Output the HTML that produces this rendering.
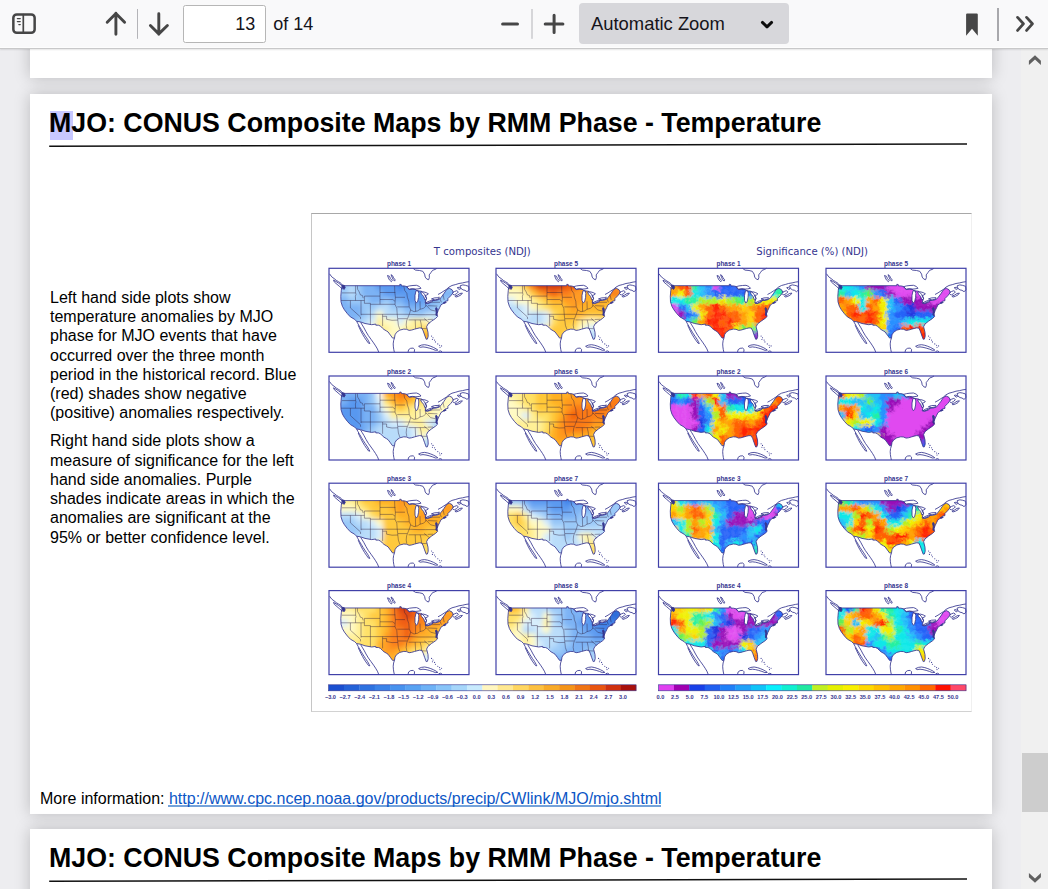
<!DOCTYPE html>
<html><head><meta charset="utf-8">
<style>
*{margin:0;padding:0;box-sizing:border-box}
html,body{width:1048px;height:889px;overflow:hidden;background:#ededf0;font-family:"Liberation Sans",Arial,sans-serif}
#tb{position:absolute;left:0;top:0;width:1048px;height:49px;background:linear-gradient(#f9f9fa 0,#f9f9fa 47px,#fdfdfd 47px,#fdfdfd 48px);border-bottom:1px solid #c8c8c9;box-shadow:0 1px 1.5px rgba(0,0,0,0.10);z-index:5}
.ab{position:absolute}
.sep{position:absolute;width:1px;background:#b4b4b8}
#pg{position:absolute;left:183px;top:5px;width:83px;height:38px;border:1px solid #b6b6b6;border-radius:2.5px;background:#fff}
#zm{position:absolute;left:579px;top:3px;width:210px;height:41px;background:#d7d7db;border-radius:4px}
.tt{position:absolute;font-family:"Liberation Sans",Arial,sans-serif;font-size:18px;line-height:18px;color:#15141a;white-space:nowrap}
.page{position:absolute;left:30px;width:962px;background:#fff;box-shadow:0 0 15px rgba(0,0,0,0.21)}
#sb{position:absolute;left:1021px;top:48px;width:27px;height:841px;background:#f0f0f0}
#thumb{position:absolute;left:1022px;top:753px;width:26px;height:59px;background:#cdcdcd}
.title{position:absolute;left:19px;font-weight:bold;font-size:26.75px;line-height:30px;color:#000;white-space:nowrap}
.hl{position:absolute;left:20px;top:16.5px;width:23px;height:29.5px;background:#c8c8ff}
.txt{position:absolute;left:20px;font-size:16px;line-height:19.27px;color:#000;white-space:nowrap}
</style></head><body>
<div id="tb">
 <div id="pg"></div>
 <div class="tt" style="left:215.3px;width:40px;text-align:right;top:15.3px">13</div>
 <div class="tt" style="left:273.3px;top:15.3px">of 14</div>
 <div id="zm"></div>
 <div class="tt" style="left:591px;top:15.4px;font-size:18.4px">Automatic Zoom</div>
 <svg class="ab" style="left:0;top:0" width="1048" height="48" viewBox="0 0 1048 48">
  <g fill="none" stroke="#464646" stroke-linecap="round" stroke-linejoin="round">
   <rect x="13.35" y="14.45" width="21.3" height="18.4" rx="3.4" stroke-width="2.5"/>
   <line x1="23.3" y1="14.5" x2="23.3" y2="33" stroke-width="1.7"/>
   <path d="M17.4 18.6H20.2M17.4 21.6H20.2M18.9 24.6H20.2" stroke-width="1.4"/>
   <path d="M115.9 34.2V13.3M107.2 22.3L115.9 13.5L124.6 22.3" stroke-width="2.9"/>
   <path d="M158.8 13.7V34.2M150.4 25.5L158.8 33.9L167.4 25.5" stroke-width="2.9"/>
   <path d="M502.6 23.9H517.5" stroke-width="3"/>
   <path d="M545.2 23.9H562.9M554.1 15.2V32.6" stroke-width="3"/>
   <path d="M762.4 22.4L767 26.9L771.6 22.4" stroke="#0c0c0d" stroke-width="2.9"/>
   <path d="M1017.6 17.4L1023.4 23.8L1017.6 30.4M1026.6 17.4L1032.4 23.8L1026.6 30.4" stroke-width="2.8"/>
  </g>
  <path d="M966.1 14.5Q966.1 13.4 967.2 13.4H976.7Q977.8 13.4 977.8 14.5V35.7L972 28.7L966.1 35.7Z" fill="#464646"/>
  <rect x="137" y="9" width="1" height="29.8" fill="#b4b4b8"/>
  <rect x="531.5" y="9" width="1" height="29.8" fill="#b4b4b8"/>
  <rect x="997" y="8" width="2" height="33" fill="#a8a8ac"/>
 </svg>
</div>

<div class="page" style="top:30px;height:48px"></div>

<div class="page" style="top:94px;height:720px">
 <div class="hl"></div>
 <div class="title" style="top:14.4px">MJO: CONUS Composite Maps by RMM Phase - Temperature</div>
 <svg class="ab" style="left:0;top:0" width="962" height="160"><line x1="19.2" y1="52.3" x2="937" y2="50" stroke="#111" stroke-width="1.5"/></svg>
 <div class="txt" style="top:193.8px">Left hand side plots show<br>temperature anomalies by MJO<br>phase for MJO events that have<br>occurred over the three month<br>period in the historical record. Blue<br>(red) shades show negative<br>(positive) anomalies respectively.</div>
 <div class="txt" style="top:337.3px">Right hand side plots show a<br>measure of significance for the left<br>hand side anomalies. Purple<br>shades indicate areas in which the<br>anomalies are significant at the<br>95% or better confidence level.</div>
 <!--FIG--><div id="fig" class="ab" style="left:281px;top:119px;width:661px;height:499px;border:1px solid #c6c6c6;border-top-color:#a8a8a8;border-bottom-color:#d2d2d2;border-right-color:#f0f0f0;background:#fff"></div>
<svg class="ab" style="left:281px;top:119px" width="661" height="499" viewBox="311 213 661 499">
<defs>
<filter id="bl" x="-10%" y="-10%" width="120%" height="120%"><feGaussianBlur stdDeviation="2.4"/></filter>
<filter id="bs" x="-10%" y="-10%" width="120%" height="120%"><feGaussianBlur stdDeviation="1.8" result="b"/><feTurbulence type="fractalNoise" baseFrequency="0.28" numOctaves="2" seed="3" result="n"/><feDisplacementMap in="b" in2="n" scale="8" xChannelSelector="R" yChannelSelector="G"/></filter>
<clipPath id="us"><path d="M13.4 17.4 L70.8 17.4 L70.8 16.0 L72.2 16.2 L72.5 17.6 L74.8 17.6 L77.5 18.2 L78.8 20.0 L80.1 21.2 L83.5 20.8 L86.8 21.2 L88.2 22.6 L91.5 22.8 L93.0 23.2 L95.5 26.0 L97.5 30.0 L96.2 34.5 L99.0 34.8 L102.5 33.0 L104.0 32.2 L106.5 32.2 L110.0 31.2 L112.0 29.4 L113.2 27.6 L114.8 25.5 L117.5 21.4 L120.3 20.0 L123.0 21.4 L124.4 24.1 L121.7 27.5 L118.9 30.3 L118.9 32.4 L116.2 33.0 L115.5 34.4 L112.0 36.5 L110.7 39.2 L109.3 42.0 L107.9 45.4 L108.6 48.2 L106.5 50.2 L102.4 53.0 L99.0 55.7 L97.6 58.5 L99.0 64.0 L99.2 68.0 L98.4 70.8 L97.2 71.0 L95.6 66.7 L94.2 62.6 L92.8 59.8 L90.5 59.6 L88.0 60.2 L85.5 60.9 L82.4 61.8 L80.1 62.1 L77.5 61.0 L74.8 60.8 L70.8 61.8 L67.6 64.0 L66.0 66.5 L65.5 69.6 L63.6 69.8 L61.4 66.8 L59.0 63.6 L57.4 62.6 L55.0 61.2 L53.4 59.8 L51.5 57.8 L49.4 56.9 L46.8 56.9 L46.8 55.8 L42.7 56.4 L36.0 55.2 L31.4 53.6 L27.6 53.0 L25.6 51.0 L21.4 48.6 L18.4 45.4 L15.4 41.5 L13.4 38.0 L12.0 33.5 L11.8 28.0 L12.3 22.0 L12.7 19.0Z"/></clipPath>
<g id="geo" fill="none" stroke="#35358f" stroke-width="0.85" stroke-linejoin="round"><path d="M0.5 5.5 L2.8 8.6 L5.0 10.2 L7.5 12.2 L9.5 13.4 L12.0 15.0 L13.4 17.4"/><path d="M4.5 11.8 L7.0 13.2 L9.8 15.0 L12.4 17.0 L14.4 19.6 L13.2 20.6 L10.8 18.4 L8.0 16.0 L5.4 13.8 L4.5 11.8"/><path d="M58.5 7.2 L60.5 8.0 L61.5 10.4 L63.2 12.2 L62.4 13.4 L60.4 11.6 L59.4 9.6 L58.5 7.2"/><path d="M62.0 6.4 L63.6 7.4 L64.6 9.6 L66.2 11.6 L65.6 12.8 L64.0 11.0 L63.0 8.8 L62.0 6.4"/><path d="M84.0 0.0 L86.5 1.8 L90.5 2.2 L93.8 3.0 L95.6 5.8 L96.2 8.8 L97.8 10.8 L99.6 11.4 L100.4 9.2 L100.2 6.6 L102.0 4.2 L103.6 2.0 L106.0 1.2 L108.0 0.0"/><path d="M77.6 18.4 L80.5 17.6 L84.0 17.2 L87.5 17.0 L90.4 18.2 L92.0 20.0 L89.0 20.6 L86.6 20.8 L83.4 20.4 L80.2 20.9 L77.6 18.4Z" fill="#fff"/><path d="M87.0 22.4 L89.2 22.4 L89.8 25.0 L89.6 29.0 L88.6 33.6 L87.2 34.6 L86.0 32.0 L86.0 27.0 L87.0 22.4Z" fill="#fff"/><path d="M91.6 23.9 L94.4 23.5 L97.2 24.3 L99.4 25.5 L98.0 26.7 L96.4 27.1 L97.6 30.4 L96.0 31.8 L94.6 28.2 L92.6 25.9 L91.6 23.9Z" fill="#fff"/><path d="M96.6 34.9 L99.0 33.3 L102.4 32.1 L104.6 31.8 L102.2 34.1 L98.4 35.3 L96.6 34.9Z" fill="#fff"/><path d="M102.5 30.6 L105.5 29.6 L110.0 29.4 L109.6 30.8 L106.0 31.6 L102.5 30.6Z" fill="#fff"/><path d="M109.0 26.2 L112.0 24.6 L115.0 22.6 L117.5 21.0 L120.0 18.8 L123.0 17.2 L126.8 16.2 L130.0 15.2 L133.6 14.6 L137.0 13.8 L140.0 13.4"/><path d="M123.4 24.2 L125.6 23.2 L127.8 22.4 L129.4 23.6 L127.6 25.4 L125.4 26.6 L123.8 26.0"/><path d="M126.0 27.8 L128.6 26.8 L131.0 25.2 L133.4 24.8 L132.0 26.6 L129.4 28.0 L126.8 28.8 L126.0 27.8"/><path d="M131.0 17.6 L133.8 16.6 L136.4 17.0 L139.6 18.0 L140.0 21.6 L138.0 23.4 L136.0 22.0 L134.0 21.6 L132.0 20.2 L131.0 17.6"/><path d="M128.2 19.4 L130.0 19.0 L131.6 20.4 L130.2 21.2 L128.2 19.4"/><path d="M27.6 53.0 L29.0 55.6 L30.6 58.4 L32.4 61.4 L34.2 64.4 L36.4 67.8 L38.6 71.0 L40.0 73.6 L40.8 75.2 L39.6 75.0 L37.8 72.6 L35.6 69.4 L33.6 66.0 L31.8 62.6 L30.4 59.6 L29.2 57.0"/><path d="M31.6 54.0 L33.2 56.6 L35.0 59.6 L37.0 63.4 L39.4 67.4 L42.0 71.0 L44.6 74.6 L46.6 77.6 L48.4 80.6 L49.8 84.0"/><path d="M65.5 69.6 L64.6 72.4 L64.2 75.6 L64.4 78.6 L64.8 81.4 L65.4 84.0"/><path d="M79.0 84.0 L79.6 81.4 L81.6 80.0 L84.2 79.8 L85.6 81.2 L85.2 84.0"/><path d="M89.6 78.0 L92.4 76.8 L95.6 76.4 L98.8 77.0 L101.8 78.0 L104.6 79.2 L107.2 80.6 L108.8 81.8 L106.4 82.0 L103.4 80.8 L100.2 79.8 L97.0 79.0 L94.0 78.6 L91.2 79.0 L89.6 78.0"/><path d="M109.6 83.2 L111.4 82.6 L113.0 83.4"/><path d="M13.0 16.6 L15.4 17.2 L16.2 19.4 L15.0 21.2 L13.8 19.8Z" fill="#35358f"/><path d="M107.0 39.2 L108.2 40.2 L108.3 43.8 L107.6 47.6 L106.9 46.8 L107.2 43.0 L106.5 40.4Z" fill="#35358f"/><path d="M114.2 34.6 L116.6 33.6 L117.2 34.2 L115.0 35.2Z" fill="#35358f"/><path d="M13.4 17.4 L70.8 17.4 L70.8 16.0 L72.2 16.2 L72.5 17.6 L74.8 17.6 L77.5 18.2 L78.8 20.0 L80.1 21.2 L83.5 20.8 L86.8 21.2 L88.2 22.6 L91.5 22.8 L93.0 23.2 L95.5 26.0 L97.5 30.0 L96.2 34.5 L99.0 34.8 L102.5 33.0 L104.0 32.2 L106.5 32.2 L110.0 31.2 L112.0 29.4 L113.2 27.6 L114.8 25.5 L117.5 21.4 L120.3 20.0 L123.0 21.4 L124.4 24.1 L121.7 27.5 L118.9 30.3 L118.9 32.4 L116.2 33.0 L115.5 34.4 L112.0 36.5 L110.7 39.2 L109.3 42.0 L107.9 45.4 L108.6 48.2 L106.5 50.2 L102.4 53.0 L99.0 55.7 L97.6 58.5 L99.0 64.0 L99.2 68.0 L98.4 70.8 L97.2 71.0 L95.6 66.7 L94.2 62.6 L92.8 59.8 L90.5 59.6 L88.0 60.2 L85.5 60.9 L82.4 61.8 L80.1 62.1 L77.5 61.0 L74.8 60.8 L70.8 61.8 L67.6 64.0 L66.0 66.5 L65.5 69.6 L63.6 69.8 L61.4 66.8 L59.0 63.6 L57.4 62.6 L55.0 61.2 L53.4 59.8 L51.5 57.8 L49.4 56.9 L46.8 56.9 L46.8 55.8 L42.7 56.4 L36.0 55.2 L31.4 53.6 L27.6 53.0 L25.6 51.0 L21.4 48.6 L18.4 45.4 L15.4 41.5 L13.4 38.0 L12.0 33.5 L11.8 28.0 L12.3 22.0 L12.7 19.0Z"/></g>
<g id="st" fill="none" stroke="#2a1a3a" stroke-opacity="0.7" stroke-width="0.6"><path d="M26.6 17.4 L26.6 24.5"/><path d="M13.0 24.6 L26.6 24.6"/><path d="M28.4 17.4 L28.6 21.0 L30.2 23.6 L31.4 26.6 L33.4 27.2 L34.2 29.8"/><path d="M26.6 24.5 L27.0 26.0 L26.4 28.0 L26.6 32.2"/><path d="M12.0 32.2 L35.4 32.2"/><path d="M21.4 32.2 L21.4 39.6 L31.4 48.6 L31.6 50.8"/><path d="M32.0 32.2 L32.0 47.0"/><path d="M35.4 27.8 L35.4 35.0 L41.4 35.0 L41.4 46.0"/><path d="M35.4 27.8 L51.0 27.8"/><path d="M51.0 17.4 L51.0 36.0"/><path d="M41.4 36.0 L66.0 36.0"/><path d="M51.0 24.2 L66.4 24.2"/><path d="M51.0 31.2 L63.8 31.2 L66.0 33.0"/><path d="M65.6 17.4 L65.8 24.0 L66.4 29.0 L66.0 36.0 L67.8 40.0 L68.2 45.6"/><path d="M32.0 46.0 L69.0 46.0"/><path d="M41.4 46.0 L41.4 56.4"/><path d="M53.6 46.0 L53.6 57.8"/><path d="M53.6 48.0 L57.6 48.0 L57.6 51.0 L63.0 52.0 L68.8 51.8"/><path d="M68.2 45.6 L68.8 51.8 L69.4 57.0 L70.8 61.0"/><path d="M66.4 29.0 L76.0 29.0"/><path d="M68.2 38.6 L80.0 38.6"/><path d="M74.8 17.6 L75.6 22.0 L77.8 25.0 L78.4 29.0 L79.8 33.0 L80.2 38.0 L81.6 41.6 L80.6 45.0 L79.2 48.6 L77.6 52.6 L77.2 56.8 L77.8 60.4"/><path d="M69.0 50.4 L78.0 50.4"/><path d="M69.0 46.0 L79.8 46.0 L89.0 46.4 L96.6 46.4 L107.0 46.4"/><path d="M79.6 51.6 L97.6 51.6"/><path d="M86.2 51.6 L86.6 60.6"/><path d="M91.2 51.6 L92.2 56.0 L92.6 60.2"/><path d="M92.6 60.2 L97.8 60.4"/><path d="M95.2 50.2 L98.6 53.0 L101.0 55.0"/><path d="M98.6 51.2 L104.0 51.0"/><path d="M86.4 34.0 L86.6 43.2"/><path d="M91.0 33.0 L91.2 41.0"/><path d="M81.6 41.6 L85.0 43.4 L88.6 42.6 L91.0 41.0 L94.6 40.0 L97.4 37.2"/><path d="M96.2 31.6 L96.8 38.0"/><path d="M96.8 34.0 L111.0 34.0"/><path d="M97.4 37.2 L101.6 41.6 L107.4 43.0"/><path d="M99.0 37.4 L108.4 37.8"/><path d="M110.0 28.2 L112.4 34.0"/><path d="M114.0 26.4 L115.2 31.6"/></g>
</defs>
<text x="482.3" y="255.2" text-anchor="middle" font-family="DejaVu Sans, Liberation Sans, sans-serif" font-size="11" fill="#35358f" textLength="97" lengthAdjust="spacingAndGlyphs">T composites (NDJ)</text>
<text x="812.1" y="255.2" text-anchor="middle" font-family="DejaVu Sans, Liberation Sans, sans-serif" font-size="11" fill="#35358f" textLength="111.5" lengthAdjust="spacingAndGlyphs">Significance (%) (NDJ)</text>
<text x="399.0" y="265.9" text-anchor="middle" font-family="Liberation Sans, sans-serif" font-weight="bold" font-size="7.2" fill="#35358f" textLength="24" lengthAdjust="spacingAndGlyphs">phase 1</text>
<g transform="translate(329.0 268.3)">
<g clip-path="url(#us)"><g filter="url(#bl)"><rect x="9" y="12" width="10" height="10" fill="#98c8f8"/><rect x="19" y="12" width="7" height="10" fill="#b8dcfa"/><rect x="26" y="12" width="7" height="10" fill="#98c8f8"/><rect x="33" y="12" width="7" height="10" fill="#78b0f4"/><rect x="40" y="12" width="7" height="10" fill="#78b0f4"/><rect x="47" y="12" width="7" height="10" fill="#5898f0"/><rect x="54" y="12" width="7" height="10" fill="#5898f0"/><rect x="61" y="12" width="7" height="10" fill="#5898f0"/><rect x="68" y="12" width="7" height="10" fill="#3c80e8"/><rect x="75" y="12" width="7" height="10" fill="#5898f0"/><rect x="82" y="12" width="7" height="10" fill="#5898f0"/><rect x="89" y="12" width="7" height="10" fill="#78b0f4"/><rect x="96" y="12" width="7" height="10" fill="#78b0f4"/><rect x="103" y="12" width="7" height="10" fill="#98c8f8"/><rect x="110" y="12" width="7" height="10" fill="#98c8f8"/><rect x="117" y="12" width="10" height="10" fill="#98c8f8"/><rect x="9" y="22" width="10" height="7" fill="#98c8f8"/><rect x="19" y="22" width="7" height="7" fill="#b8dcfa"/><rect x="26" y="22" width="7" height="7" fill="#98c8f8"/><rect x="33" y="22" width="7" height="7" fill="#78b0f4"/><rect x="40" y="22" width="7" height="7" fill="#78b0f4"/><rect x="47" y="22" width="7" height="7" fill="#78b0f4"/><rect x="54" y="22" width="7" height="7" fill="#5898f0"/><rect x="61" y="22" width="7" height="7" fill="#5898f0"/><rect x="68" y="22" width="7" height="7" fill="#5898f0"/><rect x="75" y="22" width="7" height="7" fill="#5898f0"/><rect x="82" y="22" width="7" height="7" fill="#5898f0"/><rect x="89" y="22" width="7" height="7" fill="#5898f0"/><rect x="96" y="22" width="7" height="7" fill="#78b0f4"/><rect x="103" y="22" width="7" height="7" fill="#78b0f4"/><rect x="110" y="22" width="7" height="7" fill="#78b0f4"/><rect x="117" y="22" width="10" height="7" fill="#78b0f4"/><rect x="9" y="29" width="10" height="7" fill="#78b0f4"/><rect x="19" y="29" width="7" height="7" fill="#98c8f8"/><rect x="26" y="29" width="7" height="7" fill="#98c8f8"/><rect x="33" y="29" width="7" height="7" fill="#98c8f8"/><rect x="40" y="29" width="7" height="7" fill="#78b0f4"/><rect x="47" y="29" width="7" height="7" fill="#78b0f4"/><rect x="54" y="29" width="7" height="7" fill="#98c8f8"/><rect x="61" y="29" width="7" height="7" fill="#78b0f4"/><rect x="68" y="29" width="7" height="7" fill="#78b0f4"/><rect x="75" y="29" width="7" height="7" fill="#5898f0"/><rect x="82" y="29" width="7" height="7" fill="#5898f0"/><rect x="89" y="29" width="7" height="7" fill="#5898f0"/><rect x="96" y="29" width="7" height="7" fill="#78b0f4"/><rect x="103" y="29" width="7" height="7" fill="#78b0f4"/><rect x="110" y="29" width="7" height="7" fill="#98c8f8"/><rect x="117" y="29" width="10" height="7" fill="#98c8f8"/><rect x="9" y="36" width="10" height="7" fill="#78b0f4"/><rect x="19" y="36" width="7" height="7" fill="#78b0f4"/><rect x="26" y="36" width="7" height="7" fill="#78b0f4"/><rect x="33" y="36" width="7" height="7" fill="#98c8f8"/><rect x="40" y="36" width="7" height="7" fill="#98c8f8"/><rect x="47" y="36" width="7" height="7" fill="#b8dcfa"/><rect x="54" y="36" width="7" height="7" fill="#b8dcfa"/><rect x="61" y="36" width="7" height="7" fill="#98c8f8"/><rect x="68" y="36" width="7" height="7" fill="#98c8f8"/><rect x="75" y="36" width="7" height="7" fill="#78b0f4"/><rect x="82" y="36" width="7" height="7" fill="#78b0f4"/><rect x="89" y="36" width="7" height="7" fill="#78b0f4"/><rect x="96" y="36" width="7" height="7" fill="#78b0f4"/><rect x="103" y="36" width="7" height="7" fill="#98c8f8"/><rect x="110" y="36" width="7" height="7" fill="#98c8f8"/><rect x="117" y="36" width="10" height="7" fill="#98c8f8"/><rect x="9" y="43" width="10" height="7" fill="#78b0f4"/><rect x="19" y="43" width="7" height="7" fill="#78b0f4"/><rect x="26" y="43" width="7" height="7" fill="#78b0f4"/><rect x="33" y="43" width="7" height="7" fill="#98c8f8"/><rect x="40" y="43" width="7" height="7" fill="#b8dcfa"/><rect x="47" y="43" width="7" height="7" fill="#fffac4"/><rect x="54" y="43" width="7" height="7" fill="#b8dcfa"/><rect x="61" y="43" width="7" height="7" fill="#b8dcfa"/><rect x="68" y="43" width="7" height="7" fill="#b8dcfa"/><rect x="75" y="43" width="7" height="7" fill="#98c8f8"/><rect x="82" y="43" width="7" height="7" fill="#98c8f8"/><rect x="89" y="43" width="7" height="7" fill="#98c8f8"/><rect x="96" y="43" width="7" height="7" fill="#b8dcfa"/><rect x="103" y="43" width="7" height="7" fill="#b8dcfa"/><rect x="110" y="43" width="7" height="7" fill="#b8dcfa"/><rect x="117" y="43" width="10" height="7" fill="#b8dcfa"/><rect x="9" y="50" width="10" height="7" fill="#78b0f4"/><rect x="19" y="50" width="7" height="7" fill="#78b0f4"/><rect x="26" y="50" width="7" height="7" fill="#98c8f8"/><rect x="33" y="50" width="7" height="7" fill="#b8dcfa"/><rect x="40" y="50" width="7" height="7" fill="#d8eefc"/><rect x="47" y="50" width="7" height="7" fill="#fff096"/><rect x="54" y="50" width="7" height="7" fill="#fffac4"/><rect x="61" y="50" width="7" height="7" fill="#fffac4"/><rect x="68" y="50" width="7" height="7" fill="#d8eefc"/><rect x="75" y="50" width="7" height="7" fill="#fffac4"/><rect x="82" y="50" width="7" height="7" fill="#fff096"/><rect x="89" y="50" width="7" height="7" fill="#fff096"/><rect x="96" y="50" width="7" height="7" fill="#fffac4"/><rect x="103" y="50" width="7" height="7" fill="#d8eefc"/><rect x="110" y="50" width="7" height="7" fill="#d8eefc"/><rect x="117" y="50" width="10" height="7" fill="#d8eefc"/><rect x="9" y="57" width="10" height="7" fill="#98c8f8"/><rect x="19" y="57" width="7" height="7" fill="#98c8f8"/><rect x="26" y="57" width="7" height="7" fill="#b8dcfa"/><rect x="33" y="57" width="7" height="7" fill="#d8eefc"/><rect x="40" y="57" width="7" height="7" fill="#fffac4"/><rect x="47" y="57" width="7" height="7" fill="#fff096"/><rect x="54" y="57" width="7" height="7" fill="#fff096"/><rect x="61" y="57" width="7" height="7" fill="#fffac4"/><rect x="68" y="57" width="7" height="7" fill="#fffac4"/><rect x="75" y="57" width="7" height="7" fill="#fff096"/><rect x="82" y="57" width="7" height="7" fill="#fff096"/><rect x="89" y="57" width="7" height="7" fill="#ffe064"/><rect x="96" y="57" width="7" height="7" fill="#ffc838"/><rect x="103" y="57" width="7" height="7" fill="#fffac4"/><rect x="110" y="57" width="7" height="7" fill="#fffac4"/><rect x="117" y="57" width="10" height="7" fill="#fffac4"/><rect x="9" y="64" width="10" height="10" fill="#d8eefc"/><rect x="19" y="64" width="7" height="10" fill="#d8eefc"/><rect x="26" y="64" width="7" height="10" fill="#d8eefc"/><rect x="33" y="64" width="7" height="10" fill="#fffac4"/><rect x="40" y="64" width="7" height="10" fill="#fff096"/><rect x="47" y="64" width="7" height="10" fill="#fff096"/><rect x="54" y="64" width="7" height="10" fill="#fffac4"/><rect x="61" y="64" width="7" height="10" fill="#fffac4"/><rect x="68" y="64" width="7" height="10" fill="#fff096"/><rect x="75" y="64" width="7" height="10" fill="#ffe064"/><rect x="82" y="64" width="7" height="10" fill="#ffc838"/><rect x="89" y="64" width="7" height="10" fill="#ffb024"/><rect x="96" y="64" width="7" height="10" fill="#ffb024"/><rect x="103" y="64" width="7" height="10" fill="#fffac4"/><rect x="110" y="64" width="7" height="10" fill="#fffac4"/><rect x="117" y="64" width="10" height="10" fill="#fffac4"/></g></g>
<use href="#st"/>
<use href="#geo"/>
<circle cx="102.6" cy="67.8" r="0.55" fill="#35358f"/>
<circle cx="104.0" cy="69.4" r="0.55" fill="#35358f"/>
<circle cx="103.4" cy="71.2" r="0.55" fill="#35358f"/>
<circle cx="105.6" cy="71.8" r="0.55" fill="#35358f"/>
<circle cx="106.4" cy="73.6" r="0.55" fill="#35358f"/>
<circle cx="108.8" cy="75.6" r="0.55" fill="#35358f"/>
<circle cx="110.6" cy="77.0" r="0.55" fill="#35358f"/>
<circle cx="112.6" cy="77.6" r="0.55" fill="#35358f"/>
<circle cx="111.0" cy="79.0" r="0.55" fill="#35358f"/>
<rect x="0" y="0" width="140" height="84" fill="none" stroke="#4040a8" stroke-width="1.2"/>
</g>
<text x="399.0" y="373.6" text-anchor="middle" font-family="Liberation Sans, sans-serif" font-weight="bold" font-size="7.2" fill="#35358f" textLength="24" lengthAdjust="spacingAndGlyphs">phase 2</text>
<g transform="translate(329.0 376.0)">
<g clip-path="url(#us)"><g filter="url(#bl)"><rect x="9" y="12" width="10" height="10" fill="#78b0f4"/><rect x="19" y="12" width="7" height="10" fill="#78b0f4"/><rect x="26" y="12" width="7" height="10" fill="#78b0f4"/><rect x="33" y="12" width="7" height="10" fill="#78b0f4"/><rect x="40" y="12" width="7" height="10" fill="#98c8f8"/><rect x="47" y="12" width="7" height="10" fill="#fafaf0"/><rect x="54" y="12" width="7" height="10" fill="#ffb024"/><rect x="61" y="12" width="7" height="10" fill="#ff981a"/><rect x="68" y="12" width="7" height="10" fill="#fa7a12"/><rect x="75" y="12" width="7" height="10" fill="#fa7a12"/><rect x="82" y="12" width="7" height="10" fill="#ffb024"/><rect x="89" y="12" width="7" height="10" fill="#ffc838"/><rect x="96" y="12" width="7" height="10" fill="#fff096"/><rect x="103" y="12" width="7" height="10" fill="#fffac4"/><rect x="110" y="12" width="7" height="10" fill="#fffac4"/><rect x="117" y="12" width="10" height="10" fill="#fffac4"/><rect x="9" y="22" width="10" height="7" fill="#78b0f4"/><rect x="19" y="22" width="7" height="7" fill="#5898f0"/><rect x="26" y="22" width="7" height="7" fill="#5898f0"/><rect x="33" y="22" width="7" height="7" fill="#78b0f4"/><rect x="40" y="22" width="7" height="7" fill="#98c8f8"/><rect x="47" y="22" width="7" height="7" fill="#d8eefc"/><rect x="54" y="22" width="7" height="7" fill="#ffe064"/><rect x="61" y="22" width="7" height="7" fill="#ffb024"/><rect x="68" y="22" width="7" height="7" fill="#ff981a"/><rect x="75" y="22" width="7" height="7" fill="#ffb024"/><rect x="82" y="22" width="7" height="7" fill="#ffc838"/><rect x="89" y="22" width="7" height="7" fill="#ffe064"/><rect x="96" y="22" width="7" height="7" fill="#fff096"/><rect x="103" y="22" width="7" height="7" fill="#fffac4"/><rect x="110" y="22" width="7" height="7" fill="#fffac4"/><rect x="117" y="22" width="10" height="7" fill="#fffac4"/><rect x="9" y="29" width="10" height="7" fill="#5898f0"/><rect x="19" y="29" width="7" height="7" fill="#5898f0"/><rect x="26" y="29" width="7" height="7" fill="#5898f0"/><rect x="33" y="29" width="7" height="7" fill="#78b0f4"/><rect x="40" y="29" width="7" height="7" fill="#78b0f4"/><rect x="47" y="29" width="7" height="7" fill="#b8dcfa"/><rect x="54" y="29" width="7" height="7" fill="#fffac4"/><rect x="61" y="29" width="7" height="7" fill="#ffe064"/><rect x="68" y="29" width="7" height="7" fill="#ffc838"/><rect x="75" y="29" width="7" height="7" fill="#ffe064"/><rect x="82" y="29" width="7" height="7" fill="#fff096"/><rect x="89" y="29" width="7" height="7" fill="#fff096"/><rect x="96" y="29" width="7" height="7" fill="#fff096"/><rect x="103" y="29" width="7" height="7" fill="#fffac4"/><rect x="110" y="29" width="7" height="7" fill="#fffac4"/><rect x="117" y="29" width="10" height="7" fill="#fffac4"/><rect x="9" y="36" width="10" height="7" fill="#5898f0"/><rect x="19" y="36" width="7" height="7" fill="#5898f0"/><rect x="26" y="36" width="7" height="7" fill="#5898f0"/><rect x="33" y="36" width="7" height="7" fill="#78b0f4"/><rect x="40" y="36" width="7" height="7" fill="#78b0f4"/><rect x="47" y="36" width="7" height="7" fill="#98c8f8"/><rect x="54" y="36" width="7" height="7" fill="#d8eefc"/><rect x="61" y="36" width="7" height="7" fill="#fff096"/><rect x="68" y="36" width="7" height="7" fill="#fff096"/><rect x="75" y="36" width="7" height="7" fill="#fff096"/><rect x="82" y="36" width="7" height="7" fill="#fff096"/><rect x="89" y="36" width="7" height="7" fill="#fffac4"/><rect x="96" y="36" width="7" height="7" fill="#fff096"/><rect x="103" y="36" width="7" height="7" fill="#fffac4"/><rect x="110" y="36" width="7" height="7" fill="#fffac4"/><rect x="117" y="36" width="10" height="7" fill="#fffac4"/><rect x="9" y="43" width="10" height="7" fill="#5898f0"/><rect x="19" y="43" width="7" height="7" fill="#5898f0"/><rect x="26" y="43" width="7" height="7" fill="#5898f0"/><rect x="33" y="43" width="7" height="7" fill="#78b0f4"/><rect x="40" y="43" width="7" height="7" fill="#78b0f4"/><rect x="47" y="43" width="7" height="7" fill="#98c8f8"/><rect x="54" y="43" width="7" height="7" fill="#b8dcfa"/><rect x="61" y="43" width="7" height="7" fill="#d8eefc"/><rect x="68" y="43" width="7" height="7" fill="#d8eefc"/><rect x="75" y="43" width="7" height="7" fill="#fffac4"/><rect x="82" y="43" width="7" height="7" fill="#fff096"/><rect x="89" y="43" width="7" height="7" fill="#fff096"/><rect x="96" y="43" width="7" height="7" fill="#d8eefc"/><rect x="103" y="43" width="7" height="7" fill="#b8dcfa"/><rect x="110" y="43" width="7" height="7" fill="#b8dcfa"/><rect x="117" y="43" width="10" height="7" fill="#b8dcfa"/><rect x="9" y="50" width="10" height="7" fill="#78b0f4"/><rect x="19" y="50" width="7" height="7" fill="#5898f0"/><rect x="26" y="50" width="7" height="7" fill="#5898f0"/><rect x="33" y="50" width="7" height="7" fill="#78b0f4"/><rect x="40" y="50" width="7" height="7" fill="#98c8f8"/><rect x="47" y="50" width="7" height="7" fill="#b8dcfa"/><rect x="54" y="50" width="7" height="7" fill="#b8dcfa"/><rect x="61" y="50" width="7" height="7" fill="#b8dcfa"/><rect x="68" y="50" width="7" height="7" fill="#b8dcfa"/><rect x="75" y="50" width="7" height="7" fill="#b8dcfa"/><rect x="82" y="50" width="7" height="7" fill="#d8eefc"/><rect x="89" y="50" width="7" height="7" fill="#fff096"/><rect x="96" y="50" width="7" height="7" fill="#fff096"/><rect x="103" y="50" width="7" height="7" fill="#b8dcfa"/><rect x="110" y="50" width="7" height="7" fill="#b8dcfa"/><rect x="117" y="50" width="10" height="7" fill="#b8dcfa"/><rect x="9" y="57" width="10" height="7" fill="#78b0f4"/><rect x="19" y="57" width="7" height="7" fill="#78b0f4"/><rect x="26" y="57" width="7" height="7" fill="#98c8f8"/><rect x="33" y="57" width="7" height="7" fill="#b8dcfa"/><rect x="40" y="57" width="7" height="7" fill="#b8dcfa"/><rect x="47" y="57" width="7" height="7" fill="#b8dcfa"/><rect x="54" y="57" width="7" height="7" fill="#b8dcfa"/><rect x="61" y="57" width="7" height="7" fill="#b8dcfa"/><rect x="68" y="57" width="7" height="7" fill="#b8dcfa"/><rect x="75" y="57" width="7" height="7" fill="#b8dcfa"/><rect x="82" y="57" width="7" height="7" fill="#d8eefc"/><rect x="89" y="57" width="7" height="7" fill="#fffac4"/><rect x="96" y="57" width="7" height="7" fill="#d8eefc"/><rect x="103" y="57" width="7" height="7" fill="#b8dcfa"/><rect x="110" y="57" width="7" height="7" fill="#b8dcfa"/><rect x="117" y="57" width="10" height="7" fill="#b8dcfa"/><rect x="9" y="64" width="10" height="10" fill="#b8dcfa"/><rect x="19" y="64" width="7" height="10" fill="#b8dcfa"/><rect x="26" y="64" width="7" height="10" fill="#b8dcfa"/><rect x="33" y="64" width="7" height="10" fill="#b8dcfa"/><rect x="40" y="64" width="7" height="10" fill="#b8dcfa"/><rect x="47" y="64" width="7" height="10" fill="#b8dcfa"/><rect x="54" y="64" width="7" height="10" fill="#b8dcfa"/><rect x="61" y="64" width="7" height="10" fill="#b8dcfa"/><rect x="68" y="64" width="7" height="10" fill="#b8dcfa"/><rect x="75" y="64" width="7" height="10" fill="#b8dcfa"/><rect x="82" y="64" width="7" height="10" fill="#b8dcfa"/><rect x="89" y="64" width="7" height="10" fill="#b8dcfa"/><rect x="96" y="64" width="7" height="10" fill="#b8dcfa"/><rect x="103" y="64" width="7" height="10" fill="#b8dcfa"/><rect x="110" y="64" width="7" height="10" fill="#b8dcfa"/><rect x="117" y="64" width="10" height="10" fill="#b8dcfa"/></g></g>
<use href="#st"/>
<use href="#geo"/>
<circle cx="102.6" cy="67.8" r="0.55" fill="#35358f"/>
<circle cx="104.0" cy="69.4" r="0.55" fill="#35358f"/>
<circle cx="103.4" cy="71.2" r="0.55" fill="#35358f"/>
<circle cx="105.6" cy="71.8" r="0.55" fill="#35358f"/>
<circle cx="106.4" cy="73.6" r="0.55" fill="#35358f"/>
<circle cx="108.8" cy="75.6" r="0.55" fill="#35358f"/>
<circle cx="110.6" cy="77.0" r="0.55" fill="#35358f"/>
<circle cx="112.6" cy="77.6" r="0.55" fill="#35358f"/>
<circle cx="111.0" cy="79.0" r="0.55" fill="#35358f"/>
<rect x="0" y="0" width="140" height="84" fill="none" stroke="#4040a8" stroke-width="1.2"/>
</g>
<text x="399.0" y="480.8" text-anchor="middle" font-family="Liberation Sans, sans-serif" font-weight="bold" font-size="7.2" fill="#35358f" textLength="24" lengthAdjust="spacingAndGlyphs">phase 3</text>
<g transform="translate(329.0 483.2)">
<g clip-path="url(#us)"><g filter="url(#bl)"><rect x="9" y="12" width="10" height="10" fill="#fff096"/><rect x="19" y="12" width="7" height="10" fill="#fff096"/><rect x="26" y="12" width="7" height="10" fill="#ffe064"/><rect x="33" y="12" width="7" height="10" fill="#ffc838"/><rect x="40" y="12" width="7" height="10" fill="#ffc838"/><rect x="47" y="12" width="7" height="10" fill="#ffb024"/><rect x="54" y="12" width="7" height="10" fill="#ffb024"/><rect x="61" y="12" width="7" height="10" fill="#ffb024"/><rect x="68" y="12" width="7" height="10" fill="#ff981a"/><rect x="75" y="12" width="7" height="10" fill="#ff981a"/><rect x="82" y="12" width="7" height="10" fill="#ffb024"/><rect x="89" y="12" width="7" height="10" fill="#ffb024"/><rect x="96" y="12" width="7" height="10" fill="#ffb024"/><rect x="103" y="12" width="7" height="10" fill="#ff981a"/><rect x="110" y="12" width="7" height="10" fill="#ff981a"/><rect x="117" y="12" width="10" height="10" fill="#ffb024"/><rect x="9" y="22" width="10" height="7" fill="#fffac4"/><rect x="19" y="22" width="7" height="7" fill="#fffac4"/><rect x="26" y="22" width="7" height="7" fill="#fff096"/><rect x="33" y="22" width="7" height="7" fill="#ffe064"/><rect x="40" y="22" width="7" height="7" fill="#ffc838"/><rect x="47" y="22" width="7" height="7" fill="#ffc838"/><rect x="54" y="22" width="7" height="7" fill="#ffc838"/><rect x="61" y="22" width="7" height="7" fill="#ffb024"/><rect x="68" y="22" width="7" height="7" fill="#ff981a"/><rect x="75" y="22" width="7" height="7" fill="#ffb024"/><rect x="82" y="22" width="7" height="7" fill="#ffb024"/><rect x="89" y="22" width="7" height="7" fill="#ffb024"/><rect x="96" y="22" width="7" height="7" fill="#ff981a"/><rect x="103" y="22" width="7" height="7" fill="#ff981a"/><rect x="110" y="22" width="7" height="7" fill="#ff981a"/><rect x="117" y="22" width="10" height="7" fill="#ff981a"/><rect x="9" y="29" width="10" height="7" fill="#b8dcfa"/><rect x="19" y="29" width="7" height="7" fill="#b8dcfa"/><rect x="26" y="29" width="7" height="7" fill="#d8eefc"/><rect x="33" y="29" width="7" height="7" fill="#fffac4"/><rect x="40" y="29" width="7" height="7" fill="#ffe064"/><rect x="47" y="29" width="7" height="7" fill="#ffc838"/><rect x="54" y="29" width="7" height="7" fill="#ffc838"/><rect x="61" y="29" width="7" height="7" fill="#ffc838"/><rect x="68" y="29" width="7" height="7" fill="#ffb024"/><rect x="75" y="29" width="7" height="7" fill="#ffb024"/><rect x="82" y="29" width="7" height="7" fill="#ffb024"/><rect x="89" y="29" width="7" height="7" fill="#ff981a"/><rect x="96" y="29" width="7" height="7" fill="#ff981a"/><rect x="103" y="29" width="7" height="7" fill="#ffb024"/><rect x="110" y="29" width="7" height="7" fill="#ffb024"/><rect x="117" y="29" width="10" height="7" fill="#ffb024"/><rect x="9" y="36" width="10" height="7" fill="#98c8f8"/><rect x="19" y="36" width="7" height="7" fill="#98c8f8"/><rect x="26" y="36" width="7" height="7" fill="#b8dcfa"/><rect x="33" y="36" width="7" height="7" fill="#b8dcfa"/><rect x="40" y="36" width="7" height="7" fill="#d8eefc"/><rect x="47" y="36" width="7" height="7" fill="#fffac4"/><rect x="54" y="36" width="7" height="7" fill="#ffc838"/><rect x="61" y="36" width="7" height="7" fill="#ffc838"/><rect x="68" y="36" width="7" height="7" fill="#ffc838"/><rect x="75" y="36" width="7" height="7" fill="#ffb024"/><rect x="82" y="36" width="7" height="7" fill="#ffb024"/><rect x="89" y="36" width="7" height="7" fill="#ffb024"/><rect x="96" y="36" width="7" height="7" fill="#ffb024"/><rect x="103" y="36" width="7" height="7" fill="#ffb024"/><rect x="110" y="36" width="7" height="7" fill="#ffb024"/><rect x="117" y="36" width="10" height="7" fill="#ffb024"/><rect x="9" y="43" width="10" height="7" fill="#98c8f8"/><rect x="19" y="43" width="7" height="7" fill="#98c8f8"/><rect x="26" y="43" width="7" height="7" fill="#98c8f8"/><rect x="33" y="43" width="7" height="7" fill="#b8dcfa"/><rect x="40" y="43" width="7" height="7" fill="#b8dcfa"/><rect x="47" y="43" width="7" height="7" fill="#d8eefc"/><rect x="54" y="43" width="7" height="7" fill="#ffc838"/><rect x="61" y="43" width="7" height="7" fill="#ffc838"/><rect x="68" y="43" width="7" height="7" fill="#ffc838"/><rect x="75" y="43" width="7" height="7" fill="#ffc838"/><rect x="82" y="43" width="7" height="7" fill="#ffb024"/><rect x="89" y="43" width="7" height="7" fill="#ffb024"/><rect x="96" y="43" width="7" height="7" fill="#ffc838"/><rect x="103" y="43" width="7" height="7" fill="#ffc838"/><rect x="110" y="43" width="7" height="7" fill="#ffc838"/><rect x="117" y="43" width="10" height="7" fill="#ffc838"/><rect x="9" y="50" width="10" height="7" fill="#b8dcfa"/><rect x="19" y="50" width="7" height="7" fill="#98c8f8"/><rect x="26" y="50" width="7" height="7" fill="#b8dcfa"/><rect x="33" y="50" width="7" height="7" fill="#b8dcfa"/><rect x="40" y="50" width="7" height="7" fill="#b8dcfa"/><rect x="47" y="50" width="7" height="7" fill="#d8eefc"/><rect x="54" y="50" width="7" height="7" fill="#ffc838"/><rect x="61" y="50" width="7" height="7" fill="#ffc838"/><rect x="68" y="50" width="7" height="7" fill="#ffc838"/><rect x="75" y="50" width="7" height="7" fill="#ffc838"/><rect x="82" y="50" width="7" height="7" fill="#ffc838"/><rect x="89" y="50" width="7" height="7" fill="#ffc838"/><rect x="96" y="50" width="7" height="7" fill="#ffc838"/><rect x="103" y="50" width="7" height="7" fill="#ffc838"/><rect x="110" y="50" width="7" height="7" fill="#ffc838"/><rect x="117" y="50" width="10" height="7" fill="#ffc838"/><rect x="9" y="57" width="10" height="7" fill="#b8dcfa"/><rect x="19" y="57" width="7" height="7" fill="#b8dcfa"/><rect x="26" y="57" width="7" height="7" fill="#b8dcfa"/><rect x="33" y="57" width="7" height="7" fill="#b8dcfa"/><rect x="40" y="57" width="7" height="7" fill="#d8eefc"/><rect x="47" y="57" width="7" height="7" fill="#fff096"/><rect x="54" y="57" width="7" height="7" fill="#ffc838"/><rect x="61" y="57" width="7" height="7" fill="#ffc838"/><rect x="68" y="57" width="7" height="7" fill="#ffc838"/><rect x="75" y="57" width="7" height="7" fill="#ffc838"/><rect x="82" y="57" width="7" height="7" fill="#ffc838"/><rect x="89" y="57" width="7" height="7" fill="#ffc838"/><rect x="96" y="57" width="7" height="7" fill="#ffe064"/><rect x="103" y="57" width="7" height="7" fill="#ffe064"/><rect x="110" y="57" width="7" height="7" fill="#ffe064"/><rect x="117" y="57" width="10" height="7" fill="#ffe064"/><rect x="9" y="64" width="10" height="10" fill="#ffe064"/><rect x="19" y="64" width="7" height="10" fill="#ffe064"/><rect x="26" y="64" width="7" height="10" fill="#ffe064"/><rect x="33" y="64" width="7" height="10" fill="#ffe064"/><rect x="40" y="64" width="7" height="10" fill="#ffe064"/><rect x="47" y="64" width="7" height="10" fill="#ffe064"/><rect x="54" y="64" width="7" height="10" fill="#ffc838"/><rect x="61" y="64" width="7" height="10" fill="#ffc838"/><rect x="68" y="64" width="7" height="10" fill="#ffc838"/><rect x="75" y="64" width="7" height="10" fill="#ffc838"/><rect x="82" y="64" width="7" height="10" fill="#ffc838"/><rect x="89" y="64" width="7" height="10" fill="#ffe064"/><rect x="96" y="64" width="7" height="10" fill="#ffe064"/><rect x="103" y="64" width="7" height="10" fill="#ffe064"/><rect x="110" y="64" width="7" height="10" fill="#ffe064"/><rect x="117" y="64" width="10" height="10" fill="#ffe064"/></g></g>
<use href="#st"/>
<use href="#geo"/>
<circle cx="102.6" cy="67.8" r="0.55" fill="#35358f"/>
<circle cx="104.0" cy="69.4" r="0.55" fill="#35358f"/>
<circle cx="103.4" cy="71.2" r="0.55" fill="#35358f"/>
<circle cx="105.6" cy="71.8" r="0.55" fill="#35358f"/>
<circle cx="106.4" cy="73.6" r="0.55" fill="#35358f"/>
<circle cx="108.8" cy="75.6" r="0.55" fill="#35358f"/>
<circle cx="110.6" cy="77.0" r="0.55" fill="#35358f"/>
<circle cx="112.6" cy="77.6" r="0.55" fill="#35358f"/>
<circle cx="111.0" cy="79.0" r="0.55" fill="#35358f"/>
<rect x="0" y="0" width="140" height="84" fill="none" stroke="#4040a8" stroke-width="1.2"/>
</g>
<text x="399.0" y="588.2" text-anchor="middle" font-family="Liberation Sans, sans-serif" font-weight="bold" font-size="7.2" fill="#35358f" textLength="24" lengthAdjust="spacingAndGlyphs">phase 4</text>
<g transform="translate(329.0 590.6)">
<g clip-path="url(#us)"><g filter="url(#bl)"><rect x="9" y="12" width="10" height="10" fill="#fff096"/><rect x="19" y="12" width="7" height="10" fill="#fff096"/><rect x="26" y="12" width="7" height="10" fill="#ffe064"/><rect x="33" y="12" width="7" height="10" fill="#ffe064"/><rect x="40" y="12" width="7" height="10" fill="#ffe064"/><rect x="47" y="12" width="7" height="10" fill="#ffc838"/><rect x="54" y="12" width="7" height="10" fill="#ffb024"/><rect x="61" y="12" width="7" height="10" fill="#fa7a12"/><rect x="68" y="12" width="7" height="10" fill="#d83c10"/><rect x="75" y="12" width="7" height="10" fill="#d83c10"/><rect x="82" y="12" width="7" height="10" fill="#f05a0e"/><rect x="89" y="12" width="7" height="10" fill="#fa7a12"/><rect x="96" y="12" width="7" height="10" fill="#ff981a"/><rect x="103" y="12" width="7" height="10" fill="#ffb024"/><rect x="110" y="12" width="7" height="10" fill="#ff981a"/><rect x="117" y="12" width="10" height="10" fill="#ffb024"/><rect x="9" y="22" width="10" height="7" fill="#fffac4"/><rect x="19" y="22" width="7" height="7" fill="#fffac4"/><rect x="26" y="22" width="7" height="7" fill="#fff096"/><rect x="33" y="22" width="7" height="7" fill="#ffe064"/><rect x="40" y="22" width="7" height="7" fill="#ffc838"/><rect x="47" y="22" width="7" height="7" fill="#ffc838"/><rect x="54" y="22" width="7" height="7" fill="#ffb024"/><rect x="61" y="22" width="7" height="7" fill="#fa7a12"/><rect x="68" y="22" width="7" height="7" fill="#f05a0e"/><rect x="75" y="22" width="7" height="7" fill="#d83c10"/><rect x="82" y="22" width="7" height="7" fill="#f05a0e"/><rect x="89" y="22" width="7" height="7" fill="#fa7a12"/><rect x="96" y="22" width="7" height="7" fill="#ff981a"/><rect x="103" y="22" width="7" height="7" fill="#ff981a"/><rect x="110" y="22" width="7" height="7" fill="#ff981a"/><rect x="117" y="22" width="10" height="7" fill="#ff981a"/><rect x="9" y="29" width="10" height="7" fill="#d8eefc"/><rect x="19" y="29" width="7" height="7" fill="#fffac4"/><rect x="26" y="29" width="7" height="7" fill="#fff096"/><rect x="33" y="29" width="7" height="7" fill="#ffe064"/><rect x="40" y="29" width="7" height="7" fill="#ffe064"/><rect x="47" y="29" width="7" height="7" fill="#ffc838"/><rect x="54" y="29" width="7" height="7" fill="#ffb024"/><rect x="61" y="29" width="7" height="7" fill="#fa7a12"/><rect x="68" y="29" width="7" height="7" fill="#f05a0e"/><rect x="75" y="29" width="7" height="7" fill="#f05a0e"/><rect x="82" y="29" width="7" height="7" fill="#fa7a12"/><rect x="89" y="29" width="7" height="7" fill="#fa7a12"/><rect x="96" y="29" width="7" height="7" fill="#ff981a"/><rect x="103" y="29" width="7" height="7" fill="#ff981a"/><rect x="110" y="29" width="7" height="7" fill="#ff981a"/><rect x="117" y="29" width="10" height="7" fill="#ffb024"/><rect x="9" y="36" width="10" height="7" fill="#fffac4"/><rect x="19" y="36" width="7" height="7" fill="#fffac4"/><rect x="26" y="36" width="7" height="7" fill="#fff096"/><rect x="33" y="36" width="7" height="7" fill="#ffe064"/><rect x="40" y="36" width="7" height="7" fill="#ffe064"/><rect x="47" y="36" width="7" height="7" fill="#ffc838"/><rect x="54" y="36" width="7" height="7" fill="#ffb024"/><rect x="61" y="36" width="7" height="7" fill="#fa7a12"/><rect x="68" y="36" width="7" height="7" fill="#fa7a12"/><rect x="75" y="36" width="7" height="7" fill="#f05a0e"/><rect x="82" y="36" width="7" height="7" fill="#fa7a12"/><rect x="89" y="36" width="7" height="7" fill="#ff981a"/><rect x="96" y="36" width="7" height="7" fill="#ffb024"/><rect x="103" y="36" width="7" height="7" fill="#ffb024"/><rect x="110" y="36" width="7" height="7" fill="#ffc838"/><rect x="117" y="36" width="10" height="7" fill="#ffc838"/><rect x="9" y="43" width="10" height="7" fill="#fff096"/><rect x="19" y="43" width="7" height="7" fill="#fff096"/><rect x="26" y="43" width="7" height="7" fill="#fff096"/><rect x="33" y="43" width="7" height="7" fill="#ffe064"/><rect x="40" y="43" width="7" height="7" fill="#ffe064"/><rect x="47" y="43" width="7" height="7" fill="#ffc838"/><rect x="54" y="43" width="7" height="7" fill="#ff981a"/><rect x="61" y="43" width="7" height="7" fill="#fa7a12"/><rect x="68" y="43" width="7" height="7" fill="#fa7a12"/><rect x="75" y="43" width="7" height="7" fill="#f05a0e"/><rect x="82" y="43" width="7" height="7" fill="#ff981a"/><rect x="89" y="43" width="7" height="7" fill="#ffb024"/><rect x="96" y="43" width="7" height="7" fill="#ffb024"/><rect x="103" y="43" width="7" height="7" fill="#ffc838"/><rect x="110" y="43" width="7" height="7" fill="#ffc838"/><rect x="117" y="43" width="10" height="7" fill="#ffc838"/><rect x="9" y="50" width="10" height="7" fill="#fff096"/><rect x="19" y="50" width="7" height="7" fill="#fff096"/><rect x="26" y="50" width="7" height="7" fill="#ffe064"/><rect x="33" y="50" width="7" height="7" fill="#ffe064"/><rect x="40" y="50" width="7" height="7" fill="#ffe064"/><rect x="47" y="50" width="7" height="7" fill="#ffb024"/><rect x="54" y="50" width="7" height="7" fill="#ff981a"/><rect x="61" y="50" width="7" height="7" fill="#fa7a12"/><rect x="68" y="50" width="7" height="7" fill="#fa7a12"/><rect x="75" y="50" width="7" height="7" fill="#ff981a"/><rect x="82" y="50" width="7" height="7" fill="#ffb024"/><rect x="89" y="50" width="7" height="7" fill="#ffc838"/><rect x="96" y="50" width="7" height="7" fill="#ffe064"/><rect x="103" y="50" width="7" height="7" fill="#ffe064"/><rect x="110" y="50" width="7" height="7" fill="#ffe064"/><rect x="117" y="50" width="10" height="7" fill="#ffe064"/><rect x="9" y="57" width="10" height="7" fill="#ffe064"/><rect x="19" y="57" width="7" height="7" fill="#ffe064"/><rect x="26" y="57" width="7" height="7" fill="#ffe064"/><rect x="33" y="57" width="7" height="7" fill="#ffe064"/><rect x="40" y="57" width="7" height="7" fill="#ffe064"/><rect x="47" y="57" width="7" height="7" fill="#ffb024"/><rect x="54" y="57" width="7" height="7" fill="#ff981a"/><rect x="61" y="57" width="7" height="7" fill="#ff981a"/><rect x="68" y="57" width="7" height="7" fill="#ffb024"/><rect x="75" y="57" width="7" height="7" fill="#ffc838"/><rect x="82" y="57" width="7" height="7" fill="#ffe064"/><rect x="89" y="57" width="7" height="7" fill="#ffe064"/><rect x="96" y="57" width="7" height="7" fill="#fffac4"/><rect x="103" y="57" width="7" height="7" fill="#d8eefc"/><rect x="110" y="57" width="7" height="7" fill="#d8eefc"/><rect x="117" y="57" width="10" height="7" fill="#d8eefc"/><rect x="9" y="64" width="10" height="10" fill="#ffe064"/><rect x="19" y="64" width="7" height="10" fill="#ffe064"/><rect x="26" y="64" width="7" height="10" fill="#ffe064"/><rect x="33" y="64" width="7" height="10" fill="#ffe064"/><rect x="40" y="64" width="7" height="10" fill="#ffe064"/><rect x="47" y="64" width="7" height="10" fill="#ffb024"/><rect x="54" y="64" width="7" height="10" fill="#ffb024"/><rect x="61" y="64" width="7" height="10" fill="#ffb024"/><rect x="68" y="64" width="7" height="10" fill="#ffc838"/><rect x="75" y="64" width="7" height="10" fill="#ffe064"/><rect x="82" y="64" width="7" height="10" fill="#fffac4"/><rect x="89" y="64" width="7" height="10" fill="#d8eefc"/><rect x="96" y="64" width="7" height="10" fill="#d8eefc"/><rect x="103" y="64" width="7" height="10" fill="#d8eefc"/><rect x="110" y="64" width="7" height="10" fill="#d8eefc"/><rect x="117" y="64" width="10" height="10" fill="#d8eefc"/></g></g>
<use href="#st"/>
<use href="#geo"/>
<circle cx="102.6" cy="67.8" r="0.55" fill="#35358f"/>
<circle cx="104.0" cy="69.4" r="0.55" fill="#35358f"/>
<circle cx="103.4" cy="71.2" r="0.55" fill="#35358f"/>
<circle cx="105.6" cy="71.8" r="0.55" fill="#35358f"/>
<circle cx="106.4" cy="73.6" r="0.55" fill="#35358f"/>
<circle cx="108.8" cy="75.6" r="0.55" fill="#35358f"/>
<circle cx="110.6" cy="77.0" r="0.55" fill="#35358f"/>
<circle cx="112.6" cy="77.6" r="0.55" fill="#35358f"/>
<circle cx="111.0" cy="79.0" r="0.55" fill="#35358f"/>
<rect x="0" y="0" width="140" height="84" fill="none" stroke="#4040a8" stroke-width="1.2"/>
</g>
<text x="566.0" y="265.9" text-anchor="middle" font-family="Liberation Sans, sans-serif" font-weight="bold" font-size="7.2" fill="#35358f" textLength="24" lengthAdjust="spacingAndGlyphs">phase 5</text>
<g transform="translate(496.0 268.3)">
<g clip-path="url(#us)"><g filter="url(#bl)"><rect x="9" y="12" width="10" height="10" fill="#fff096"/><rect x="19" y="12" width="7" height="10" fill="#fff096"/><rect x="26" y="12" width="7" height="10" fill="#ffc838"/><rect x="33" y="12" width="7" height="10" fill="#fa7a12"/><rect x="40" y="12" width="7" height="10" fill="#d83c10"/><rect x="47" y="12" width="7" height="10" fill="#d83c10"/><rect x="54" y="12" width="7" height="10" fill="#d83c10"/><rect x="61" y="12" width="7" height="10" fill="#d83c10"/><rect x="68" y="12" width="7" height="10" fill="#f05a0e"/><rect x="75" y="12" width="7" height="10" fill="#f05a0e"/><rect x="82" y="12" width="7" height="10" fill="#ff981a"/><rect x="89" y="12" width="7" height="10" fill="#ffb024"/><rect x="96" y="12" width="7" height="10" fill="#ffb024"/><rect x="103" y="12" width="7" height="10" fill="#ff981a"/><rect x="110" y="12" width="7" height="10" fill="#fa7a12"/><rect x="117" y="12" width="10" height="10" fill="#ff981a"/><rect x="9" y="22" width="10" height="7" fill="#fffac4"/><rect x="19" y="22" width="7" height="7" fill="#fffac4"/><rect x="26" y="22" width="7" height="7" fill="#fff096"/><rect x="33" y="22" width="7" height="7" fill="#ffc838"/><rect x="40" y="22" width="7" height="7" fill="#ff981a"/><rect x="47" y="22" width="7" height="7" fill="#fa7a12"/><rect x="54" y="22" width="7" height="7" fill="#f05a0e"/><rect x="61" y="22" width="7" height="7" fill="#fa7a12"/><rect x="68" y="22" width="7" height="7" fill="#fa7a12"/><rect x="75" y="22" width="7" height="7" fill="#ff981a"/><rect x="82" y="22" width="7" height="7" fill="#ff981a"/><rect x="89" y="22" width="7" height="7" fill="#ffb024"/><rect x="96" y="22" width="7" height="7" fill="#ffb024"/><rect x="103" y="22" width="7" height="7" fill="#ff981a"/><rect x="110" y="22" width="7" height="7" fill="#fa7a12"/><rect x="117" y="22" width="10" height="7" fill="#fa7a12"/><rect x="9" y="29" width="10" height="7" fill="#d8eefc"/><rect x="19" y="29" width="7" height="7" fill="#fffac4"/><rect x="26" y="29" width="7" height="7" fill="#fffac4"/><rect x="33" y="29" width="7" height="7" fill="#fff096"/><rect x="40" y="29" width="7" height="7" fill="#ffe064"/><rect x="47" y="29" width="7" height="7" fill="#ffc838"/><rect x="54" y="29" width="7" height="7" fill="#ffb024"/><rect x="61" y="29" width="7" height="7" fill="#ffb024"/><rect x="68" y="29" width="7" height="7" fill="#ff981a"/><rect x="75" y="29" width="7" height="7" fill="#ff981a"/><rect x="82" y="29" width="7" height="7" fill="#ff981a"/><rect x="89" y="29" width="7" height="7" fill="#ffb024"/><rect x="96" y="29" width="7" height="7" fill="#ffb024"/><rect x="103" y="29" width="7" height="7" fill="#ffb024"/><rect x="110" y="29" width="7" height="7" fill="#ffb024"/><rect x="117" y="29" width="10" height="7" fill="#ffb024"/><rect x="9" y="36" width="10" height="7" fill="#b8dcfa"/><rect x="19" y="36" width="7" height="7" fill="#b8dcfa"/><rect x="26" y="36" width="7" height="7" fill="#d8eefc"/><rect x="33" y="36" width="7" height="7" fill="#fffac4"/><rect x="40" y="36" width="7" height="7" fill="#fff096"/><rect x="47" y="36" width="7" height="7" fill="#ffe064"/><rect x="54" y="36" width="7" height="7" fill="#ffc838"/><rect x="61" y="36" width="7" height="7" fill="#ffc838"/><rect x="68" y="36" width="7" height="7" fill="#ffb024"/><rect x="75" y="36" width="7" height="7" fill="#ff981a"/><rect x="82" y="36" width="7" height="7" fill="#ffb024"/><rect x="89" y="36" width="7" height="7" fill="#ffb024"/><rect x="96" y="36" width="7" height="7" fill="#ffb024"/><rect x="103" y="36" width="7" height="7" fill="#ffb024"/><rect x="110" y="36" width="7" height="7" fill="#ffc838"/><rect x="117" y="36" width="10" height="7" fill="#ffc838"/><rect x="9" y="43" width="10" height="7" fill="#b8dcfa"/><rect x="19" y="43" width="7" height="7" fill="#b8dcfa"/><rect x="26" y="43" width="7" height="7" fill="#d8eefc"/><rect x="33" y="43" width="7" height="7" fill="#b8dcfa"/><rect x="40" y="43" width="7" height="7" fill="#b8dcfa"/><rect x="47" y="43" width="7" height="7" fill="#d8eefc"/><rect x="54" y="43" width="7" height="7" fill="#ffe064"/><rect x="61" y="43" width="7" height="7" fill="#ffc838"/><rect x="68" y="43" width="7" height="7" fill="#ffb024"/><rect x="75" y="43" width="7" height="7" fill="#ffb024"/><rect x="82" y="43" width="7" height="7" fill="#ffb024"/><rect x="89" y="43" width="7" height="7" fill="#ffc838"/><rect x="96" y="43" width="7" height="7" fill="#ffc838"/><rect x="103" y="43" width="7" height="7" fill="#ffc838"/><rect x="110" y="43" width="7" height="7" fill="#ffc838"/><rect x="117" y="43" width="10" height="7" fill="#ffc838"/><rect x="9" y="50" width="10" height="7" fill="#d8eefc"/><rect x="19" y="50" width="7" height="7" fill="#b8dcfa"/><rect x="26" y="50" width="7" height="7" fill="#b8dcfa"/><rect x="33" y="50" width="7" height="7" fill="#b8dcfa"/><rect x="40" y="50" width="7" height="7" fill="#b8dcfa"/><rect x="47" y="50" width="7" height="7" fill="#d8eefc"/><rect x="54" y="50" width="7" height="7" fill="#ffe064"/><rect x="61" y="50" width="7" height="7" fill="#ffc838"/><rect x="68" y="50" width="7" height="7" fill="#ffc838"/><rect x="75" y="50" width="7" height="7" fill="#ffc838"/><rect x="82" y="50" width="7" height="7" fill="#fff096"/><rect x="89" y="50" width="7" height="7" fill="#fffac4"/><rect x="96" y="50" width="7" height="7" fill="#fffac4"/><rect x="103" y="50" width="7" height="7" fill="#fff096"/><rect x="110" y="50" width="7" height="7" fill="#fff096"/><rect x="117" y="50" width="10" height="7" fill="#fff096"/><rect x="9" y="57" width="10" height="7" fill="#d8eefc"/><rect x="19" y="57" width="7" height="7" fill="#d8eefc"/><rect x="26" y="57" width="7" height="7" fill="#d8eefc"/><rect x="33" y="57" width="7" height="7" fill="#d8eefc"/><rect x="40" y="57" width="7" height="7" fill="#fffac4"/><rect x="47" y="57" width="7" height="7" fill="#fff096"/><rect x="54" y="57" width="7" height="7" fill="#ffc838"/><rect x="61" y="57" width="7" height="7" fill="#ffc838"/><rect x="68" y="57" width="7" height="7" fill="#ffc838"/><rect x="75" y="57" width="7" height="7" fill="#ffe064"/><rect x="82" y="57" width="7" height="7" fill="#fffac4"/><rect x="89" y="57" width="7" height="7" fill="#d8eefc"/><rect x="96" y="57" width="7" height="7" fill="#d8eefc"/><rect x="103" y="57" width="7" height="7" fill="#d8eefc"/><rect x="110" y="57" width="7" height="7" fill="#d8eefc"/><rect x="117" y="57" width="10" height="7" fill="#d8eefc"/><rect x="9" y="64" width="10" height="10" fill="#ffe064"/><rect x="19" y="64" width="7" height="10" fill="#ffe064"/><rect x="26" y="64" width="7" height="10" fill="#ffe064"/><rect x="33" y="64" width="7" height="10" fill="#ffe064"/><rect x="40" y="64" width="7" height="10" fill="#ffe064"/><rect x="47" y="64" width="7" height="10" fill="#ffc838"/><rect x="54" y="64" width="7" height="10" fill="#ffc838"/><rect x="61" y="64" width="7" height="10" fill="#ffc838"/><rect x="68" y="64" width="7" height="10" fill="#ffe064"/><rect x="75" y="64" width="7" height="10" fill="#fffac4"/><rect x="82" y="64" width="7" height="10" fill="#d8eefc"/><rect x="89" y="64" width="7" height="10" fill="#b8dcfa"/><rect x="96" y="64" width="7" height="10" fill="#b8dcfa"/><rect x="103" y="64" width="7" height="10" fill="#b8dcfa"/><rect x="110" y="64" width="7" height="10" fill="#b8dcfa"/><rect x="117" y="64" width="10" height="10" fill="#b8dcfa"/></g></g>
<use href="#st"/>
<use href="#geo"/>
<circle cx="102.6" cy="67.8" r="0.55" fill="#35358f"/>
<circle cx="104.0" cy="69.4" r="0.55" fill="#35358f"/>
<circle cx="103.4" cy="71.2" r="0.55" fill="#35358f"/>
<circle cx="105.6" cy="71.8" r="0.55" fill="#35358f"/>
<circle cx="106.4" cy="73.6" r="0.55" fill="#35358f"/>
<circle cx="108.8" cy="75.6" r="0.55" fill="#35358f"/>
<circle cx="110.6" cy="77.0" r="0.55" fill="#35358f"/>
<circle cx="112.6" cy="77.6" r="0.55" fill="#35358f"/>
<circle cx="111.0" cy="79.0" r="0.55" fill="#35358f"/>
<rect x="0" y="0" width="140" height="84" fill="none" stroke="#4040a8" stroke-width="1.2"/>
</g>
<text x="566.0" y="373.6" text-anchor="middle" font-family="Liberation Sans, sans-serif" font-weight="bold" font-size="7.2" fill="#35358f" textLength="24" lengthAdjust="spacingAndGlyphs">phase 6</text>
<g transform="translate(496.0 376.0)">
<g clip-path="url(#us)"><g filter="url(#bl)"><rect x="9" y="12" width="10" height="10" fill="#fff096"/><rect x="19" y="12" width="7" height="10" fill="#fff096"/><rect x="26" y="12" width="7" height="10" fill="#ffe064"/><rect x="33" y="12" width="7" height="10" fill="#ffe064"/><rect x="40" y="12" width="7" height="10" fill="#ffc838"/><rect x="47" y="12" width="7" height="10" fill="#ffc838"/><rect x="54" y="12" width="7" height="10" fill="#ffb024"/><rect x="61" y="12" width="7" height="10" fill="#ffb024"/><rect x="68" y="12" width="7" height="10" fill="#ffb024"/><rect x="75" y="12" width="7" height="10" fill="#ff981a"/><rect x="82" y="12" width="7" height="10" fill="#ff981a"/><rect x="89" y="12" width="7" height="10" fill="#ffb024"/><rect x="96" y="12" width="7" height="10" fill="#ffb024"/><rect x="103" y="12" width="7" height="10" fill="#ff981a"/><rect x="110" y="12" width="7" height="10" fill="#fa7a12"/><rect x="117" y="12" width="10" height="10" fill="#ff981a"/><rect x="9" y="22" width="10" height="7" fill="#fffac4"/><rect x="19" y="22" width="7" height="7" fill="#fff096"/><rect x="26" y="22" width="7" height="7" fill="#ffe064"/><rect x="33" y="22" width="7" height="7" fill="#ffe064"/><rect x="40" y="22" width="7" height="7" fill="#ffc838"/><rect x="47" y="22" width="7" height="7" fill="#ffc838"/><rect x="54" y="22" width="7" height="7" fill="#ffb024"/><rect x="61" y="22" width="7" height="7" fill="#ffb024"/><rect x="68" y="22" width="7" height="7" fill="#ff981a"/><rect x="75" y="22" width="7" height="7" fill="#ff981a"/><rect x="82" y="22" width="7" height="7" fill="#ff981a"/><rect x="89" y="22" width="7" height="7" fill="#ff981a"/><rect x="96" y="22" width="7" height="7" fill="#ff981a"/><rect x="103" y="22" width="7" height="7" fill="#fa7a12"/><rect x="110" y="22" width="7" height="7" fill="#fa7a12"/><rect x="117" y="22" width="10" height="7" fill="#fa7a12"/><rect x="9" y="29" width="10" height="7" fill="#fffac4"/><rect x="19" y="29" width="7" height="7" fill="#fffac4"/><rect x="26" y="29" width="7" height="7" fill="#fff096"/><rect x="33" y="29" width="7" height="7" fill="#ffe064"/><rect x="40" y="29" width="7" height="7" fill="#ffc838"/><rect x="47" y="29" width="7" height="7" fill="#ffc838"/><rect x="54" y="29" width="7" height="7" fill="#ffc838"/><rect x="61" y="29" width="7" height="7" fill="#ffb024"/><rect x="68" y="29" width="7" height="7" fill="#ff981a"/><rect x="75" y="29" width="7" height="7" fill="#fa7a12"/><rect x="82" y="29" width="7" height="7" fill="#fa7a12"/><rect x="89" y="29" width="7" height="7" fill="#fa7a12"/><rect x="96" y="29" width="7" height="7" fill="#fa7a12"/><rect x="103" y="29" width="7" height="7" fill="#fa7a12"/><rect x="110" y="29" width="7" height="7" fill="#fa7a12"/><rect x="117" y="29" width="10" height="7" fill="#fa7a12"/><rect x="9" y="36" width="10" height="7" fill="#fffac4"/><rect x="19" y="36" width="7" height="7" fill="#fffac4"/><rect x="26" y="36" width="7" height="7" fill="#d8eefc"/><rect x="33" y="36" width="7" height="7" fill="#fff096"/><rect x="40" y="36" width="7" height="7" fill="#ffe064"/><rect x="47" y="36" width="7" height="7" fill="#ffe064"/><rect x="54" y="36" width="7" height="7" fill="#ffc838"/><rect x="61" y="36" width="7" height="7" fill="#ffb024"/><rect x="68" y="36" width="7" height="7" fill="#fa7a12"/><rect x="75" y="36" width="7" height="7" fill="#f05a0e"/><rect x="82" y="36" width="7" height="7" fill="#fa7a12"/><rect x="89" y="36" width="7" height="7" fill="#fa7a12"/><rect x="96" y="36" width="7" height="7" fill="#fa7a12"/><rect x="103" y="36" width="7" height="7" fill="#fa7a12"/><rect x="110" y="36" width="7" height="7" fill="#ff981a"/><rect x="117" y="36" width="10" height="7" fill="#ff981a"/><rect x="9" y="43" width="10" height="7" fill="#fffac4"/><rect x="19" y="43" width="7" height="7" fill="#fff096"/><rect x="26" y="43" width="7" height="7" fill="#fff096"/><rect x="33" y="43" width="7" height="7" fill="#fff096"/><rect x="40" y="43" width="7" height="7" fill="#fff096"/><rect x="47" y="43" width="7" height="7" fill="#ffe064"/><rect x="54" y="43" width="7" height="7" fill="#ffc838"/><rect x="61" y="43" width="7" height="7" fill="#ff981a"/><rect x="68" y="43" width="7" height="7" fill="#fa7a12"/><rect x="75" y="43" width="7" height="7" fill="#fa7a12"/><rect x="82" y="43" width="7" height="7" fill="#fa7a12"/><rect x="89" y="43" width="7" height="7" fill="#fa7a12"/><rect x="96" y="43" width="7" height="7" fill="#ff981a"/><rect x="103" y="43" width="7" height="7" fill="#ff981a"/><rect x="110" y="43" width="7" height="7" fill="#ff981a"/><rect x="117" y="43" width="10" height="7" fill="#ff981a"/><rect x="9" y="50" width="10" height="7" fill="#fff096"/><rect x="19" y="50" width="7" height="7" fill="#fff096"/><rect x="26" y="50" width="7" height="7" fill="#fff096"/><rect x="33" y="50" width="7" height="7" fill="#fff096"/><rect x="40" y="50" width="7" height="7" fill="#fff096"/><rect x="47" y="50" width="7" height="7" fill="#ffe064"/><rect x="54" y="50" width="7" height="7" fill="#ffb024"/><rect x="61" y="50" width="7" height="7" fill="#ff981a"/><rect x="68" y="50" width="7" height="7" fill="#fa7a12"/><rect x="75" y="50" width="7" height="7" fill="#fa7a12"/><rect x="82" y="50" width="7" height="7" fill="#fa7a12"/><rect x="89" y="50" width="7" height="7" fill="#ff981a"/><rect x="96" y="50" width="7" height="7" fill="#ffb024"/><rect x="103" y="50" width="7" height="7" fill="#ffb024"/><rect x="110" y="50" width="7" height="7" fill="#ffb024"/><rect x="117" y="50" width="10" height="7" fill="#ffb024"/><rect x="9" y="57" width="10" height="7" fill="#fff096"/><rect x="19" y="57" width="7" height="7" fill="#fff096"/><rect x="26" y="57" width="7" height="7" fill="#fff096"/><rect x="33" y="57" width="7" height="7" fill="#fff096"/><rect x="40" y="57" width="7" height="7" fill="#ffe064"/><rect x="47" y="57" width="7" height="7" fill="#ffc838"/><rect x="54" y="57" width="7" height="7" fill="#ffb024"/><rect x="61" y="57" width="7" height="7" fill="#ff981a"/><rect x="68" y="57" width="7" height="7" fill="#ff981a"/><rect x="75" y="57" width="7" height="7" fill="#ffb024"/><rect x="82" y="57" width="7" height="7" fill="#ffb024"/><rect x="89" y="57" width="7" height="7" fill="#ffb024"/><rect x="96" y="57" width="7" height="7" fill="#ffc838"/><rect x="103" y="57" width="7" height="7" fill="#ffc838"/><rect x="110" y="57" width="7" height="7" fill="#ffc838"/><rect x="117" y="57" width="10" height="7" fill="#ffc838"/><rect x="9" y="64" width="10" height="10" fill="#ffc838"/><rect x="19" y="64" width="7" height="10" fill="#ffc838"/><rect x="26" y="64" width="7" height="10" fill="#ffc838"/><rect x="33" y="64" width="7" height="10" fill="#ffc838"/><rect x="40" y="64" width="7" height="10" fill="#ffc838"/><rect x="47" y="64" width="7" height="10" fill="#ffb024"/><rect x="54" y="64" width="7" height="10" fill="#ffb024"/><rect x="61" y="64" width="7" height="10" fill="#ffb024"/><rect x="68" y="64" width="7" height="10" fill="#ffb024"/><rect x="75" y="64" width="7" height="10" fill="#ffc838"/><rect x="82" y="64" width="7" height="10" fill="#ffc838"/><rect x="89" y="64" width="7" height="10" fill="#ffc838"/><rect x="96" y="64" width="7" height="10" fill="#ffc838"/><rect x="103" y="64" width="7" height="10" fill="#ffc838"/><rect x="110" y="64" width="7" height="10" fill="#ffc838"/><rect x="117" y="64" width="10" height="10" fill="#ffc838"/></g></g>
<use href="#st"/>
<use href="#geo"/>
<circle cx="102.6" cy="67.8" r="0.55" fill="#35358f"/>
<circle cx="104.0" cy="69.4" r="0.55" fill="#35358f"/>
<circle cx="103.4" cy="71.2" r="0.55" fill="#35358f"/>
<circle cx="105.6" cy="71.8" r="0.55" fill="#35358f"/>
<circle cx="106.4" cy="73.6" r="0.55" fill="#35358f"/>
<circle cx="108.8" cy="75.6" r="0.55" fill="#35358f"/>
<circle cx="110.6" cy="77.0" r="0.55" fill="#35358f"/>
<circle cx="112.6" cy="77.6" r="0.55" fill="#35358f"/>
<circle cx="111.0" cy="79.0" r="0.55" fill="#35358f"/>
<rect x="0" y="0" width="140" height="84" fill="none" stroke="#4040a8" stroke-width="1.2"/>
</g>
<text x="566.0" y="480.8" text-anchor="middle" font-family="Liberation Sans, sans-serif" font-weight="bold" font-size="7.2" fill="#35358f" textLength="24" lengthAdjust="spacingAndGlyphs">phase 7</text>
<g transform="translate(496.0 483.2)">
<g clip-path="url(#us)"><g filter="url(#bl)"><rect x="9" y="12" width="10" height="10" fill="#98c8f8"/><rect x="19" y="12" width="7" height="10" fill="#98c8f8"/><rect x="26" y="12" width="7" height="10" fill="#78b0f4"/><rect x="33" y="12" width="7" height="10" fill="#5898f0"/><rect x="40" y="12" width="7" height="10" fill="#5898f0"/><rect x="47" y="12" width="7" height="10" fill="#5898f0"/><rect x="54" y="12" width="7" height="10" fill="#5898f0"/><rect x="61" y="12" width="7" height="10" fill="#5898f0"/><rect x="68" y="12" width="7" height="10" fill="#3c80e8"/><rect x="75" y="12" width="7" height="10" fill="#5898f0"/><rect x="82" y="12" width="7" height="10" fill="#78b0f4"/><rect x="89" y="12" width="7" height="10" fill="#78b0f4"/><rect x="96" y="12" width="7" height="10" fill="#78b0f4"/><rect x="103" y="12" width="7" height="10" fill="#98c8f8"/><rect x="110" y="12" width="7" height="10" fill="#98c8f8"/><rect x="117" y="12" width="10" height="10" fill="#98c8f8"/><rect x="9" y="22" width="10" height="7" fill="#fffac4"/><rect x="19" y="22" width="7" height="7" fill="#fffac4"/><rect x="26" y="22" width="7" height="7" fill="#b8dcfa"/><rect x="33" y="22" width="7" height="7" fill="#78b0f4"/><rect x="40" y="22" width="7" height="7" fill="#78b0f4"/><rect x="47" y="22" width="7" height="7" fill="#78b0f4"/><rect x="54" y="22" width="7" height="7" fill="#5898f0"/><rect x="61" y="22" width="7" height="7" fill="#5898f0"/><rect x="68" y="22" width="7" height="7" fill="#5898f0"/><rect x="75" y="22" width="7" height="7" fill="#78b0f4"/><rect x="82" y="22" width="7" height="7" fill="#78b0f4"/><rect x="89" y="22" width="7" height="7" fill="#78b0f4"/><rect x="96" y="22" width="7" height="7" fill="#78b0f4"/><rect x="103" y="22" width="7" height="7" fill="#98c8f8"/><rect x="110" y="22" width="7" height="7" fill="#98c8f8"/><rect x="117" y="22" width="10" height="7" fill="#98c8f8"/><rect x="9" y="29" width="10" height="7" fill="#ffe064"/><rect x="19" y="29" width="7" height="7" fill="#ffc838"/><rect x="26" y="29" width="7" height="7" fill="#fff096"/><rect x="33" y="29" width="7" height="7" fill="#d8eefc"/><rect x="40" y="29" width="7" height="7" fill="#b8dcfa"/><rect x="47" y="29" width="7" height="7" fill="#98c8f8"/><rect x="54" y="29" width="7" height="7" fill="#78b0f4"/><rect x="61" y="29" width="7" height="7" fill="#78b0f4"/><rect x="68" y="29" width="7" height="7" fill="#78b0f4"/><rect x="75" y="29" width="7" height="7" fill="#78b0f4"/><rect x="82" y="29" width="7" height="7" fill="#98c8f8"/><rect x="89" y="29" width="7" height="7" fill="#98c8f8"/><rect x="96" y="29" width="7" height="7" fill="#98c8f8"/><rect x="103" y="29" width="7" height="7" fill="#98c8f8"/><rect x="110" y="29" width="7" height="7" fill="#98c8f8"/><rect x="117" y="29" width="10" height="7" fill="#98c8f8"/><rect x="9" y="36" width="10" height="7" fill="#ffe064"/><rect x="19" y="36" width="7" height="7" fill="#ffc838"/><rect x="26" y="36" width="7" height="7" fill="#ffe064"/><rect x="33" y="36" width="7" height="7" fill="#fffac4"/><rect x="40" y="36" width="7" height="7" fill="#fffac4"/><rect x="47" y="36" width="7" height="7" fill="#d8eefc"/><rect x="54" y="36" width="7" height="7" fill="#98c8f8"/><rect x="61" y="36" width="7" height="7" fill="#98c8f8"/><rect x="68" y="36" width="7" height="7" fill="#98c8f8"/><rect x="75" y="36" width="7" height="7" fill="#98c8f8"/><rect x="82" y="36" width="7" height="7" fill="#98c8f8"/><rect x="89" y="36" width="7" height="7" fill="#98c8f8"/><rect x="96" y="36" width="7" height="7" fill="#98c8f8"/><rect x="103" y="36" width="7" height="7" fill="#b8dcfa"/><rect x="110" y="36" width="7" height="7" fill="#b8dcfa"/><rect x="117" y="36" width="10" height="7" fill="#b8dcfa"/><rect x="9" y="43" width="10" height="7" fill="#fff096"/><rect x="19" y="43" width="7" height="7" fill="#ffe064"/><rect x="26" y="43" width="7" height="7" fill="#ffe064"/><rect x="33" y="43" width="7" height="7" fill="#fff096"/><rect x="40" y="43" width="7" height="7" fill="#fffac4"/><rect x="47" y="43" width="7" height="7" fill="#fffac4"/><rect x="54" y="43" width="7" height="7" fill="#b8dcfa"/><rect x="61" y="43" width="7" height="7" fill="#b8dcfa"/><rect x="68" y="43" width="7" height="7" fill="#98c8f8"/><rect x="75" y="43" width="7" height="7" fill="#98c8f8"/><rect x="82" y="43" width="7" height="7" fill="#b8dcfa"/><rect x="89" y="43" width="7" height="7" fill="#b8dcfa"/><rect x="96" y="43" width="7" height="7" fill="#b8dcfa"/><rect x="103" y="43" width="7" height="7" fill="#b8dcfa"/><rect x="110" y="43" width="7" height="7" fill="#b8dcfa"/><rect x="117" y="43" width="10" height="7" fill="#b8dcfa"/><rect x="9" y="50" width="10" height="7" fill="#fff096"/><rect x="19" y="50" width="7" height="7" fill="#ffe064"/><rect x="26" y="50" width="7" height="7" fill="#ffe064"/><rect x="33" y="50" width="7" height="7" fill="#fff096"/><rect x="40" y="50" width="7" height="7" fill="#fffac4"/><rect x="47" y="50" width="7" height="7" fill="#d8eefc"/><rect x="54" y="50" width="7" height="7" fill="#b8dcfa"/><rect x="61" y="50" width="7" height="7" fill="#b8dcfa"/><rect x="68" y="50" width="7" height="7" fill="#98c8f8"/><rect x="75" y="50" width="7" height="7" fill="#b8dcfa"/><rect x="82" y="50" width="7" height="7" fill="#fffac4"/><rect x="89" y="50" width="7" height="7" fill="#fff096"/><rect x="96" y="50" width="7" height="7" fill="#d8eefc"/><rect x="103" y="50" width="7" height="7" fill="#b8dcfa"/><rect x="110" y="50" width="7" height="7" fill="#b8dcfa"/><rect x="117" y="50" width="10" height="7" fill="#b8dcfa"/><rect x="9" y="57" width="10" height="7" fill="#fff096"/><rect x="19" y="57" width="7" height="7" fill="#fff096"/><rect x="26" y="57" width="7" height="7" fill="#fff096"/><rect x="33" y="57" width="7" height="7" fill="#fff096"/><rect x="40" y="57" width="7" height="7" fill="#fffac4"/><rect x="47" y="57" width="7" height="7" fill="#d8eefc"/><rect x="54" y="57" width="7" height="7" fill="#b8dcfa"/><rect x="61" y="57" width="7" height="7" fill="#b8dcfa"/><rect x="68" y="57" width="7" height="7" fill="#b8dcfa"/><rect x="75" y="57" width="7" height="7" fill="#b8dcfa"/><rect x="82" y="57" width="7" height="7" fill="#d8eefc"/><rect x="89" y="57" width="7" height="7" fill="#fff096"/><rect x="96" y="57" width="7" height="7" fill="#ffe064"/><rect x="103" y="57" width="7" height="7" fill="#d8eefc"/><rect x="110" y="57" width="7" height="7" fill="#d8eefc"/><rect x="117" y="57" width="10" height="7" fill="#d8eefc"/><rect x="9" y="64" width="10" height="10" fill="#b8dcfa"/><rect x="19" y="64" width="7" height="10" fill="#b8dcfa"/><rect x="26" y="64" width="7" height="10" fill="#b8dcfa"/><rect x="33" y="64" width="7" height="10" fill="#b8dcfa"/><rect x="40" y="64" width="7" height="10" fill="#b8dcfa"/><rect x="47" y="64" width="7" height="10" fill="#b8dcfa"/><rect x="54" y="64" width="7" height="10" fill="#b8dcfa"/><rect x="61" y="64" width="7" height="10" fill="#b8dcfa"/><rect x="68" y="64" width="7" height="10" fill="#b8dcfa"/><rect x="75" y="64" width="7" height="10" fill="#b8dcfa"/><rect x="82" y="64" width="7" height="10" fill="#d8eefc"/><rect x="89" y="64" width="7" height="10" fill="#ffe064"/><rect x="96" y="64" width="7" height="10" fill="#ffe064"/><rect x="103" y="64" width="7" height="10" fill="#d8eefc"/><rect x="110" y="64" width="7" height="10" fill="#d8eefc"/><rect x="117" y="64" width="10" height="10" fill="#d8eefc"/></g></g>
<use href="#st"/>
<use href="#geo"/>
<circle cx="102.6" cy="67.8" r="0.55" fill="#35358f"/>
<circle cx="104.0" cy="69.4" r="0.55" fill="#35358f"/>
<circle cx="103.4" cy="71.2" r="0.55" fill="#35358f"/>
<circle cx="105.6" cy="71.8" r="0.55" fill="#35358f"/>
<circle cx="106.4" cy="73.6" r="0.55" fill="#35358f"/>
<circle cx="108.8" cy="75.6" r="0.55" fill="#35358f"/>
<circle cx="110.6" cy="77.0" r="0.55" fill="#35358f"/>
<circle cx="112.6" cy="77.6" r="0.55" fill="#35358f"/>
<circle cx="111.0" cy="79.0" r="0.55" fill="#35358f"/>
<rect x="0" y="0" width="140" height="84" fill="none" stroke="#4040a8" stroke-width="1.2"/>
</g>
<text x="566.0" y="588.2" text-anchor="middle" font-family="Liberation Sans, sans-serif" font-weight="bold" font-size="7.2" fill="#35358f" textLength="24" lengthAdjust="spacingAndGlyphs">phase 8</text>
<g transform="translate(496.0 590.6)">
<g clip-path="url(#us)"><g filter="url(#bl)"><rect x="9" y="12" width="10" height="10" fill="#ffb024"/><rect x="19" y="12" width="7" height="10" fill="#ffc838"/><rect x="26" y="12" width="7" height="10" fill="#fff096"/><rect x="33" y="12" width="7" height="10" fill="#b8dcfa"/><rect x="40" y="12" width="7" height="10" fill="#b8dcfa"/><rect x="47" y="12" width="7" height="10" fill="#b8dcfa"/><rect x="54" y="12" width="7" height="10" fill="#98c8f8"/><rect x="61" y="12" width="7" height="10" fill="#98c8f8"/><rect x="68" y="12" width="7" height="10" fill="#78b0f4"/><rect x="75" y="12" width="7" height="10" fill="#78b0f4"/><rect x="82" y="12" width="7" height="10" fill="#78b0f4"/><rect x="89" y="12" width="7" height="10" fill="#5898f0"/><rect x="96" y="12" width="7" height="10" fill="#3c80e8"/><rect x="103" y="12" width="7" height="10" fill="#3c80e8"/><rect x="110" y="12" width="7" height="10" fill="#2868d8"/><rect x="117" y="12" width="10" height="10" fill="#2868d8"/><rect x="9" y="22" width="10" height="7" fill="#ffe064"/><rect x="19" y="22" width="7" height="7" fill="#ffe064"/><rect x="26" y="22" width="7" height="7" fill="#fffac4"/><rect x="33" y="22" width="7" height="7" fill="#d8eefc"/><rect x="40" y="22" width="7" height="7" fill="#b8dcfa"/><rect x="47" y="22" width="7" height="7" fill="#fffac4"/><rect x="54" y="22" width="7" height="7" fill="#b8dcfa"/><rect x="61" y="22" width="7" height="7" fill="#98c8f8"/><rect x="68" y="22" width="7" height="7" fill="#78b0f4"/><rect x="75" y="22" width="7" height="7" fill="#78b0f4"/><rect x="82" y="22" width="7" height="7" fill="#78b0f4"/><rect x="89" y="22" width="7" height="7" fill="#5898f0"/><rect x="96" y="22" width="7" height="7" fill="#3c80e8"/><rect x="103" y="22" width="7" height="7" fill="#3c80e8"/><rect x="110" y="22" width="7" height="7" fill="#2868d8"/><rect x="117" y="22" width="10" height="7" fill="#2868d8"/><rect x="9" y="29" width="10" height="7" fill="#ffe064"/><rect x="19" y="29" width="7" height="7" fill="#fff096"/><rect x="26" y="29" width="7" height="7" fill="#d8eefc"/><rect x="33" y="29" width="7" height="7" fill="#d8eefc"/><rect x="40" y="29" width="7" height="7" fill="#d8eefc"/><rect x="47" y="29" width="7" height="7" fill="#fff096"/><rect x="54" y="29" width="7" height="7" fill="#b8dcfa"/><rect x="61" y="29" width="7" height="7" fill="#98c8f8"/><rect x="68" y="29" width="7" height="7" fill="#78b0f4"/><rect x="75" y="29" width="7" height="7" fill="#78b0f4"/><rect x="82" y="29" width="7" height="7" fill="#5898f0"/><rect x="89" y="29" width="7" height="7" fill="#5898f0"/><rect x="96" y="29" width="7" height="7" fill="#3c80e8"/><rect x="103" y="29" width="7" height="7" fill="#3c80e8"/><rect x="110" y="29" width="7" height="7" fill="#3c80e8"/><rect x="117" y="29" width="10" height="7" fill="#3c80e8"/><rect x="9" y="36" width="10" height="7" fill="#fff096"/><rect x="19" y="36" width="7" height="7" fill="#fffac4"/><rect x="26" y="36" width="7" height="7" fill="#b8dcfa"/><rect x="33" y="36" width="7" height="7" fill="#b8dcfa"/><rect x="40" y="36" width="7" height="7" fill="#d8eefc"/><rect x="47" y="36" width="7" height="7" fill="#fffac4"/><rect x="54" y="36" width="7" height="7" fill="#b8dcfa"/><rect x="61" y="36" width="7" height="7" fill="#b8dcfa"/><rect x="68" y="36" width="7" height="7" fill="#98c8f8"/><rect x="75" y="36" width="7" height="7" fill="#78b0f4"/><rect x="82" y="36" width="7" height="7" fill="#78b0f4"/><rect x="89" y="36" width="7" height="7" fill="#5898f0"/><rect x="96" y="36" width="7" height="7" fill="#5898f0"/><rect x="103" y="36" width="7" height="7" fill="#3c80e8"/><rect x="110" y="36" width="7" height="7" fill="#3c80e8"/><rect x="117" y="36" width="10" height="7" fill="#3c80e8"/><rect x="9" y="43" width="10" height="7" fill="#fffac4"/><rect x="19" y="43" width="7" height="7" fill="#fffac4"/><rect x="26" y="43" width="7" height="7" fill="#fff096"/><rect x="33" y="43" width="7" height="7" fill="#fffac4"/><rect x="40" y="43" width="7" height="7" fill="#b8dcfa"/><rect x="47" y="43" width="7" height="7" fill="#b8dcfa"/><rect x="54" y="43" width="7" height="7" fill="#b8dcfa"/><rect x="61" y="43" width="7" height="7" fill="#b8dcfa"/><rect x="68" y="43" width="7" height="7" fill="#98c8f8"/><rect x="75" y="43" width="7" height="7" fill="#78b0f4"/><rect x="82" y="43" width="7" height="7" fill="#78b0f4"/><rect x="89" y="43" width="7" height="7" fill="#78b0f4"/><rect x="96" y="43" width="7" height="7" fill="#5898f0"/><rect x="103" y="43" width="7" height="7" fill="#5898f0"/><rect x="110" y="43" width="7" height="7" fill="#5898f0"/><rect x="117" y="43" width="10" height="7" fill="#5898f0"/><rect x="9" y="50" width="10" height="7" fill="#d8eefc"/><rect x="19" y="50" width="7" height="7" fill="#fffac4"/><rect x="26" y="50" width="7" height="7" fill="#fff096"/><rect x="33" y="50" width="7" height="7" fill="#fffac4"/><rect x="40" y="50" width="7" height="7" fill="#d8eefc"/><rect x="47" y="50" width="7" height="7" fill="#b8dcfa"/><rect x="54" y="50" width="7" height="7" fill="#b8dcfa"/><rect x="61" y="50" width="7" height="7" fill="#98c8f8"/><rect x="68" y="50" width="7" height="7" fill="#98c8f8"/><rect x="75" y="50" width="7" height="7" fill="#78b0f4"/><rect x="82" y="50" width="7" height="7" fill="#78b0f4"/><rect x="89" y="50" width="7" height="7" fill="#78b0f4"/><rect x="96" y="50" width="7" height="7" fill="#78b0f4"/><rect x="103" y="50" width="7" height="7" fill="#78b0f4"/><rect x="110" y="50" width="7" height="7" fill="#78b0f4"/><rect x="117" y="50" width="10" height="7" fill="#78b0f4"/><rect x="9" y="57" width="10" height="7" fill="#d8eefc"/><rect x="19" y="57" width="7" height="7" fill="#d8eefc"/><rect x="26" y="57" width="7" height="7" fill="#fffac4"/><rect x="33" y="57" width="7" height="7" fill="#d8eefc"/><rect x="40" y="57" width="7" height="7" fill="#b8dcfa"/><rect x="47" y="57" width="7" height="7" fill="#b8dcfa"/><rect x="54" y="57" width="7" height="7" fill="#98c8f8"/><rect x="61" y="57" width="7" height="7" fill="#98c8f8"/><rect x="68" y="57" width="7" height="7" fill="#78b0f4"/><rect x="75" y="57" width="7" height="7" fill="#78b0f4"/><rect x="82" y="57" width="7" height="7" fill="#78b0f4"/><rect x="89" y="57" width="7" height="7" fill="#98c8f8"/><rect x="96" y="57" width="7" height="7" fill="#98c8f8"/><rect x="103" y="57" width="7" height="7" fill="#98c8f8"/><rect x="110" y="57" width="7" height="7" fill="#98c8f8"/><rect x="117" y="57" width="10" height="7" fill="#98c8f8"/><rect x="9" y="64" width="10" height="10" fill="#98c8f8"/><rect x="19" y="64" width="7" height="10" fill="#98c8f8"/><rect x="26" y="64" width="7" height="10" fill="#98c8f8"/><rect x="33" y="64" width="7" height="10" fill="#98c8f8"/><rect x="40" y="64" width="7" height="10" fill="#98c8f8"/><rect x="47" y="64" width="7" height="10" fill="#98c8f8"/><rect x="54" y="64" width="7" height="10" fill="#78b0f4"/><rect x="61" y="64" width="7" height="10" fill="#78b0f4"/><rect x="68" y="64" width="7" height="10" fill="#78b0f4"/><rect x="75" y="64" width="7" height="10" fill="#98c8f8"/><rect x="82" y="64" width="7" height="10" fill="#98c8f8"/><rect x="89" y="64" width="7" height="10" fill="#98c8f8"/><rect x="96" y="64" width="7" height="10" fill="#b8dcfa"/><rect x="103" y="64" width="7" height="10" fill="#98c8f8"/><rect x="110" y="64" width="7" height="10" fill="#98c8f8"/><rect x="117" y="64" width="10" height="10" fill="#98c8f8"/></g></g>
<use href="#st"/>
<use href="#geo"/>
<circle cx="102.6" cy="67.8" r="0.55" fill="#35358f"/>
<circle cx="104.0" cy="69.4" r="0.55" fill="#35358f"/>
<circle cx="103.4" cy="71.2" r="0.55" fill="#35358f"/>
<circle cx="105.6" cy="71.8" r="0.55" fill="#35358f"/>
<circle cx="106.4" cy="73.6" r="0.55" fill="#35358f"/>
<circle cx="108.8" cy="75.6" r="0.55" fill="#35358f"/>
<circle cx="110.6" cy="77.0" r="0.55" fill="#35358f"/>
<circle cx="112.6" cy="77.6" r="0.55" fill="#35358f"/>
<circle cx="111.0" cy="79.0" r="0.55" fill="#35358f"/>
<rect x="0" y="0" width="140" height="84" fill="none" stroke="#4040a8" stroke-width="1.2"/>
</g>
<text x="728.5" y="265.9" text-anchor="middle" font-family="Liberation Sans, sans-serif" font-weight="bold" font-size="7.2" fill="#35358f" textLength="24" lengthAdjust="spacingAndGlyphs">phase 1</text>
<g transform="translate(658.5 268.3)">
<g clip-path="url(#us)"><g filter="url(#bs)"><rect x="9" y="12" width="10" height="10" fill="#ffa000"/><rect x="19" y="12" width="7" height="10" fill="#ff6000"/><rect x="26" y="12" width="7" height="10" fill="#ff2000"/><rect x="33" y="12" width="7" height="10" fill="#20f0a0"/><rect x="40" y="12" width="7" height="10" fill="#20c0f8"/><rect x="47" y="12" width="7" height="10" fill="#2890ff"/><rect x="54" y="12" width="7" height="10" fill="#e048f0"/><rect x="61" y="12" width="7" height="10" fill="#2060f8"/><rect x="68" y="12" width="7" height="10" fill="#2060f8"/><rect x="75" y="12" width="7" height="10" fill="#2060f8"/><rect x="82" y="12" width="7" height="10" fill="#2060f8"/><rect x="89" y="12" width="7" height="10" fill="#2060f8"/><rect x="96" y="12" width="7" height="10" fill="#2060f8"/><rect x="103" y="12" width="7" height="10" fill="#2890ff"/><rect x="110" y="12" width="7" height="10" fill="#10e8e8"/><rect x="117" y="12" width="10" height="10" fill="#20f0a0"/><rect x="9" y="22" width="10" height="7" fill="#ffa000"/><rect x="19" y="22" width="7" height="7" fill="#f0f000"/><rect x="26" y="22" width="7" height="7" fill="#ff6000"/><rect x="33" y="22" width="7" height="7" fill="#10e8e8"/><rect x="40" y="22" width="7" height="7" fill="#20c0f8"/><rect x="47" y="22" width="7" height="7" fill="#2890ff"/><rect x="54" y="22" width="7" height="7" fill="#2060f8"/><rect x="61" y="22" width="7" height="7" fill="#2060f8"/><rect x="68" y="22" width="7" height="7" fill="#2060f8"/><rect x="75" y="22" width="7" height="7" fill="#2060f8"/><rect x="82" y="22" width="7" height="7" fill="#2060f8"/><rect x="89" y="22" width="7" height="7" fill="#2890ff"/><rect x="96" y="22" width="7" height="7" fill="#20c0f8"/><rect x="103" y="22" width="7" height="7" fill="#10e8e8"/><rect x="110" y="22" width="7" height="7" fill="#10e8e8"/><rect x="117" y="22" width="10" height="7" fill="#20f0a0"/><rect x="9" y="29" width="10" height="7" fill="#10e8e8"/><rect x="19" y="29" width="7" height="7" fill="#10e8e8"/><rect x="26" y="29" width="7" height="7" fill="#20f0a0"/><rect x="33" y="29" width="7" height="7" fill="#20f0a0"/><rect x="40" y="29" width="7" height="7" fill="#b0f020"/><rect x="47" y="29" width="7" height="7" fill="#b0f020"/><rect x="54" y="29" width="7" height="7" fill="#b0f020"/><rect x="61" y="29" width="7" height="7" fill="#f0f000"/><rect x="68" y="29" width="7" height="7" fill="#b0f020"/><rect x="75" y="29" width="7" height="7" fill="#60f050"/><rect x="82" y="29" width="7" height="7" fill="#20f0a0"/><rect x="89" y="29" width="7" height="7" fill="#b0f020"/><rect x="96" y="29" width="7" height="7" fill="#f0f000"/><rect x="103" y="29" width="7" height="7" fill="#f0f000"/><rect x="110" y="29" width="7" height="7" fill="#f0f000"/><rect x="117" y="29" width="10" height="7" fill="#f0f000"/><rect x="9" y="36" width="10" height="7" fill="#e048f0"/><rect x="19" y="36" width="7" height="7" fill="#2060f8"/><rect x="26" y="36" width="7" height="7" fill="#20c0f8"/><rect x="33" y="36" width="7" height="7" fill="#f0f000"/><rect x="40" y="36" width="7" height="7" fill="#ffa000"/><rect x="47" y="36" width="7" height="7" fill="#ff6000"/><rect x="54" y="36" width="7" height="7" fill="#ff2000"/><rect x="61" y="36" width="7" height="7" fill="#ff6000"/><rect x="68" y="36" width="7" height="7" fill="#ffa000"/><rect x="75" y="36" width="7" height="7" fill="#ffa000"/><rect x="82" y="36" width="7" height="7" fill="#ffd000"/><rect x="89" y="36" width="7" height="7" fill="#ffa000"/><rect x="96" y="36" width="7" height="7" fill="#ff6000"/><rect x="103" y="36" width="7" height="7" fill="#ff6000"/><rect x="110" y="36" width="7" height="7" fill="#ff6000"/><rect x="117" y="36" width="10" height="7" fill="#ff6000"/><rect x="9" y="43" width="10" height="7" fill="#e048f0"/><rect x="19" y="43" width="7" height="7" fill="#9810b8"/><rect x="26" y="43" width="7" height="7" fill="#2060f8"/><rect x="33" y="43" width="7" height="7" fill="#2890ff"/><rect x="40" y="43" width="7" height="7" fill="#f0f000"/><rect x="47" y="43" width="7" height="7" fill="#ff6000"/><rect x="54" y="43" width="7" height="7" fill="#ff2000"/><rect x="61" y="43" width="7" height="7" fill="#ff2000"/><rect x="68" y="43" width="7" height="7" fill="#ff6000"/><rect x="75" y="43" width="7" height="7" fill="#ff6000"/><rect x="82" y="43" width="7" height="7" fill="#ffa000"/><rect x="89" y="43" width="7" height="7" fill="#ffd000"/><rect x="96" y="43" width="7" height="7" fill="#ff6000"/><rect x="103" y="43" width="7" height="7" fill="#ff2000"/><rect x="110" y="43" width="7" height="7" fill="#ff6000"/><rect x="117" y="43" width="10" height="7" fill="#ff6000"/><rect x="9" y="50" width="10" height="7" fill="#2060f8"/><rect x="19" y="50" width="7" height="7" fill="#2060f8"/><rect x="26" y="50" width="7" height="7" fill="#20c0f8"/><rect x="33" y="50" width="7" height="7" fill="#60f050"/><rect x="40" y="50" width="7" height="7" fill="#ffa000"/><rect x="47" y="50" width="7" height="7" fill="#ff2000"/><rect x="54" y="50" width="7" height="7" fill="#ff2000"/><rect x="61" y="50" width="7" height="7" fill="#ff6000"/><rect x="68" y="50" width="7" height="7" fill="#ff2000"/><rect x="75" y="50" width="7" height="7" fill="#ff6000"/><rect x="82" y="50" width="7" height="7" fill="#ffa000"/><rect x="89" y="50" width="7" height="7" fill="#ffd000"/><rect x="96" y="50" width="7" height="7" fill="#ff6000"/><rect x="103" y="50" width="7" height="7" fill="#ff2000"/><rect x="110" y="50" width="7" height="7" fill="#ffd000"/><rect x="117" y="50" width="10" height="7" fill="#ffd000"/><rect x="9" y="57" width="10" height="7" fill="#10e8e8"/><rect x="19" y="57" width="7" height="7" fill="#10e8e8"/><rect x="26" y="57" width="7" height="7" fill="#10e8e8"/><rect x="33" y="57" width="7" height="7" fill="#10e8e8"/><rect x="40" y="57" width="7" height="7" fill="#f0f000"/><rect x="47" y="57" width="7" height="7" fill="#ff6000"/><rect x="54" y="57" width="7" height="7" fill="#ff2000"/><rect x="61" y="57" width="7" height="7" fill="#ff2000"/><rect x="68" y="57" width="7" height="7" fill="#ff6000"/><rect x="75" y="57" width="7" height="7" fill="#f0f000"/><rect x="82" y="57" width="7" height="7" fill="#60f050"/><rect x="89" y="57" width="7" height="7" fill="#b0f020"/><rect x="96" y="57" width="7" height="7" fill="#20f0a0"/><rect x="103" y="57" width="7" height="7" fill="#2060f8"/><rect x="110" y="57" width="7" height="7" fill="#2060f8"/><rect x="117" y="57" width="10" height="7" fill="#2060f8"/><rect x="9" y="64" width="10" height="10" fill="#f0f000"/><rect x="19" y="64" width="7" height="10" fill="#f0f000"/><rect x="26" y="64" width="7" height="10" fill="#f0f000"/><rect x="33" y="64" width="7" height="10" fill="#f0f000"/><rect x="40" y="64" width="7" height="10" fill="#f0f000"/><rect x="47" y="64" width="7" height="10" fill="#ff6000"/><rect x="54" y="64" width="7" height="10" fill="#ff2000"/><rect x="61" y="64" width="7" height="10" fill="#ff2000"/><rect x="68" y="64" width="7" height="10" fill="#ff6000"/><rect x="75" y="64" width="7" height="10" fill="#b0f020"/><rect x="82" y="64" width="7" height="10" fill="#60f050"/><rect x="89" y="64" width="7" height="10" fill="#2060f8"/><rect x="96" y="64" width="7" height="10" fill="#9810b8"/><rect x="103" y="64" width="7" height="10" fill="#e048f0"/><rect x="110" y="64" width="7" height="10" fill="#e048f0"/><rect x="117" y="64" width="10" height="10" fill="#e048f0"/></g></g>
<use href="#geo"/>
<circle cx="102.6" cy="67.8" r="0.55" fill="#35358f"/>
<circle cx="104.0" cy="69.4" r="0.55" fill="#35358f"/>
<circle cx="103.4" cy="71.2" r="0.55" fill="#35358f"/>
<circle cx="105.6" cy="71.8" r="0.55" fill="#35358f"/>
<circle cx="106.4" cy="73.6" r="0.55" fill="#35358f"/>
<circle cx="108.8" cy="75.6" r="0.55" fill="#35358f"/>
<circle cx="110.6" cy="77.0" r="0.55" fill="#35358f"/>
<circle cx="112.6" cy="77.6" r="0.55" fill="#35358f"/>
<circle cx="111.0" cy="79.0" r="0.55" fill="#35358f"/>
<rect x="0" y="0" width="140" height="84" fill="none" stroke="#4040a8" stroke-width="1.2"/>
</g>
<text x="728.5" y="373.6" text-anchor="middle" font-family="Liberation Sans, sans-serif" font-weight="bold" font-size="7.2" fill="#35358f" textLength="24" lengthAdjust="spacingAndGlyphs">phase 2</text>
<g transform="translate(658.5 376.0)">
<g clip-path="url(#us)"><g filter="url(#bs)"><rect x="9" y="12" width="10" height="10" fill="#2890ff"/><rect x="19" y="12" width="7" height="10" fill="#20f0a0"/><rect x="26" y="12" width="7" height="10" fill="#10e8e8"/><rect x="33" y="12" width="7" height="10" fill="#ff2000"/><rect x="40" y="12" width="7" height="10" fill="#ffa000"/><rect x="47" y="12" width="7" height="10" fill="#ff6000"/><rect x="54" y="12" width="7" height="10" fill="#f0f000"/><rect x="61" y="12" width="7" height="10" fill="#20c0f8"/><rect x="68" y="12" width="7" height="10" fill="#9810b8"/><rect x="75" y="12" width="7" height="10" fill="#9810b8"/><rect x="82" y="12" width="7" height="10" fill="#2060f8"/><rect x="89" y="12" width="7" height="10" fill="#2060f8"/><rect x="96" y="12" width="7" height="10" fill="#2060f8"/><rect x="103" y="12" width="7" height="10" fill="#f0f000"/><rect x="110" y="12" width="7" height="10" fill="#ffa000"/><rect x="117" y="12" width="10" height="10" fill="#ff6000"/><rect x="9" y="22" width="10" height="7" fill="#2060f8"/><rect x="19" y="22" width="7" height="7" fill="#2890ff"/><rect x="26" y="22" width="7" height="7" fill="#2060f8"/><rect x="33" y="22" width="7" height="7" fill="#9810b8"/><rect x="40" y="22" width="7" height="7" fill="#2890ff"/><rect x="47" y="22" width="7" height="7" fill="#b0f020"/><rect x="54" y="22" width="7" height="7" fill="#ff2000"/><rect x="61" y="22" width="7" height="7" fill="#20c0f8"/><rect x="68" y="22" width="7" height="7" fill="#2060f8"/><rect x="75" y="22" width="7" height="7" fill="#2060f8"/><rect x="82" y="22" width="7" height="7" fill="#2060f8"/><rect x="89" y="22" width="7" height="7" fill="#2060f8"/><rect x="96" y="22" width="7" height="7" fill="#2060f8"/><rect x="103" y="22" width="7" height="7" fill="#f0f000"/><rect x="110" y="22" width="7" height="7" fill="#ffa000"/><rect x="117" y="22" width="10" height="7" fill="#ff6000"/><rect x="9" y="29" width="10" height="7" fill="#e048f0"/><rect x="19" y="29" width="7" height="7" fill="#e048f0"/><rect x="26" y="29" width="7" height="7" fill="#e048f0"/><rect x="33" y="29" width="7" height="7" fill="#9810b8"/><rect x="40" y="29" width="7" height="7" fill="#2060f8"/><rect x="47" y="29" width="7" height="7" fill="#20c0f8"/><rect x="54" y="29" width="7" height="7" fill="#ffd000"/><rect x="61" y="29" width="7" height="7" fill="#ff6000"/><rect x="68" y="29" width="7" height="7" fill="#20f0a0"/><rect x="75" y="29" width="7" height="7" fill="#10e8e8"/><rect x="82" y="29" width="7" height="7" fill="#10e8e8"/><rect x="89" y="29" width="7" height="7" fill="#10e8e8"/><rect x="96" y="29" width="7" height="7" fill="#f0f000"/><rect x="103" y="29" width="7" height="7" fill="#ff6000"/><rect x="110" y="29" width="7" height="7" fill="#ff2000"/><rect x="117" y="29" width="10" height="7" fill="#ff2000"/><rect x="9" y="36" width="10" height="7" fill="#e048f0"/><rect x="19" y="36" width="7" height="7" fill="#e048f0"/><rect x="26" y="36" width="7" height="7" fill="#e048f0"/><rect x="33" y="36" width="7" height="7" fill="#9810b8"/><rect x="40" y="36" width="7" height="7" fill="#2060f8"/><rect x="47" y="36" width="7" height="7" fill="#2890ff"/><rect x="54" y="36" width="7" height="7" fill="#b0f020"/><rect x="61" y="36" width="7" height="7" fill="#ff6000"/><rect x="68" y="36" width="7" height="7" fill="#f0f000"/><rect x="75" y="36" width="7" height="7" fill="#f0f000"/><rect x="82" y="36" width="7" height="7" fill="#f0f000"/><rect x="89" y="36" width="7" height="7" fill="#f0f000"/><rect x="96" y="36" width="7" height="7" fill="#ffd000"/><rect x="103" y="36" width="7" height="7" fill="#ff2000"/><rect x="110" y="36" width="7" height="7" fill="#ff2000"/><rect x="117" y="36" width="10" height="7" fill="#ff2000"/><rect x="9" y="43" width="10" height="7" fill="#e048f0"/><rect x="19" y="43" width="7" height="7" fill="#e048f0"/><rect x="26" y="43" width="7" height="7" fill="#e048f0"/><rect x="33" y="43" width="7" height="7" fill="#e048f0"/><rect x="40" y="43" width="7" height="7" fill="#2030e0"/><rect x="47" y="43" width="7" height="7" fill="#2890ff"/><rect x="54" y="43" width="7" height="7" fill="#f0f000"/><rect x="61" y="43" width="7" height="7" fill="#ffa000"/><rect x="68" y="43" width="7" height="7" fill="#ffa000"/><rect x="75" y="43" width="7" height="7" fill="#ff6000"/><rect x="82" y="43" width="7" height="7" fill="#ff6000"/><rect x="89" y="43" width="7" height="7" fill="#ffa000"/><rect x="96" y="43" width="7" height="7" fill="#ff6000"/><rect x="103" y="43" width="7" height="7" fill="#ff2000"/><rect x="110" y="43" width="7" height="7" fill="#ff2000"/><rect x="117" y="43" width="10" height="7" fill="#ff2000"/><rect x="9" y="50" width="10" height="7" fill="#e048f0"/><rect x="19" y="50" width="7" height="7" fill="#e048f0"/><rect x="26" y="50" width="7" height="7" fill="#e048f0"/><rect x="33" y="50" width="7" height="7" fill="#9810b8"/><rect x="40" y="50" width="7" height="7" fill="#2060f8"/><rect x="47" y="50" width="7" height="7" fill="#10e8e8"/><rect x="54" y="50" width="7" height="7" fill="#ffa000"/><rect x="61" y="50" width="7" height="7" fill="#f0f000"/><rect x="68" y="50" width="7" height="7" fill="#ffa000"/><rect x="75" y="50" width="7" height="7" fill="#ff6000"/><rect x="82" y="50" width="7" height="7" fill="#ff2000"/><rect x="89" y="50" width="7" height="7" fill="#ff2000"/><rect x="96" y="50" width="7" height="7" fill="#ff2000"/><rect x="103" y="50" width="7" height="7" fill="#ff2000"/><rect x="110" y="50" width="7" height="7" fill="#ff2000"/><rect x="117" y="50" width="10" height="7" fill="#ff2000"/><rect x="9" y="57" width="10" height="7" fill="#e048f0"/><rect x="19" y="57" width="7" height="7" fill="#e048f0"/><rect x="26" y="57" width="7" height="7" fill="#e048f0"/><rect x="33" y="57" width="7" height="7" fill="#9810b8"/><rect x="40" y="57" width="7" height="7" fill="#2060f8"/><rect x="47" y="57" width="7" height="7" fill="#b0f020"/><rect x="54" y="57" width="7" height="7" fill="#f0f000"/><rect x="61" y="57" width="7" height="7" fill="#ff6000"/><rect x="68" y="57" width="7" height="7" fill="#ffa000"/><rect x="75" y="57" width="7" height="7" fill="#ff6000"/><rect x="82" y="57" width="7" height="7" fill="#ff2000"/><rect x="89" y="57" width="7" height="7" fill="#ff6000"/><rect x="96" y="57" width="7" height="7" fill="#ff2000"/><rect x="103" y="57" width="7" height="7" fill="#ff2000"/><rect x="110" y="57" width="7" height="7" fill="#ff2000"/><rect x="117" y="57" width="10" height="7" fill="#ff2000"/><rect x="9" y="64" width="10" height="10" fill="#10e8e8"/><rect x="19" y="64" width="7" height="10" fill="#10e8e8"/><rect x="26" y="64" width="7" height="10" fill="#10e8e8"/><rect x="33" y="64" width="7" height="10" fill="#10e8e8"/><rect x="40" y="64" width="7" height="10" fill="#10e8e8"/><rect x="47" y="64" width="7" height="10" fill="#b0f020"/><rect x="54" y="64" width="7" height="10" fill="#f0f000"/><rect x="61" y="64" width="7" height="10" fill="#ff6000"/><rect x="68" y="64" width="7" height="10" fill="#ff6000"/><rect x="75" y="64" width="7" height="10" fill="#ff6000"/><rect x="82" y="64" width="7" height="10" fill="#ff6000"/><rect x="89" y="64" width="7" height="10" fill="#ff2000"/><rect x="96" y="64" width="7" height="10" fill="#ff2000"/><rect x="103" y="64" width="7" height="10" fill="#ff2000"/><rect x="110" y="64" width="7" height="10" fill="#ff2000"/><rect x="117" y="64" width="10" height="10" fill="#ff2000"/></g></g>
<use href="#geo"/>
<circle cx="102.6" cy="67.8" r="0.55" fill="#35358f"/>
<circle cx="104.0" cy="69.4" r="0.55" fill="#35358f"/>
<circle cx="103.4" cy="71.2" r="0.55" fill="#35358f"/>
<circle cx="105.6" cy="71.8" r="0.55" fill="#35358f"/>
<circle cx="106.4" cy="73.6" r="0.55" fill="#35358f"/>
<circle cx="108.8" cy="75.6" r="0.55" fill="#35358f"/>
<circle cx="110.6" cy="77.0" r="0.55" fill="#35358f"/>
<circle cx="112.6" cy="77.6" r="0.55" fill="#35358f"/>
<circle cx="111.0" cy="79.0" r="0.55" fill="#35358f"/>
<rect x="0" y="0" width="140" height="84" fill="none" stroke="#4040a8" stroke-width="1.2"/>
</g>
<text x="728.5" y="480.8" text-anchor="middle" font-family="Liberation Sans, sans-serif" font-weight="bold" font-size="7.2" fill="#35358f" textLength="24" lengthAdjust="spacingAndGlyphs">phase 3</text>
<g transform="translate(658.5 483.2)">
<g clip-path="url(#us)"><g filter="url(#bs)"><rect x="9" y="12" width="10" height="10" fill="#f0f000"/><rect x="19" y="12" width="7" height="10" fill="#10e8e8"/><rect x="26" y="12" width="7" height="10" fill="#20c0f8"/><rect x="33" y="12" width="7" height="10" fill="#2890ff"/><rect x="40" y="12" width="7" height="10" fill="#20c0f8"/><rect x="47" y="12" width="7" height="10" fill="#20c0f8"/><rect x="54" y="12" width="7" height="10" fill="#2890ff"/><rect x="61" y="12" width="7" height="10" fill="#2890ff"/><rect x="68" y="12" width="7" height="10" fill="#2060f8"/><rect x="75" y="12" width="7" height="10" fill="#2060f8"/><rect x="82" y="12" width="7" height="10" fill="#2060f8"/><rect x="89" y="12" width="7" height="10" fill="#9810b8"/><rect x="96" y="12" width="7" height="10" fill="#e048f0"/><rect x="103" y="12" width="7" height="10" fill="#e048f0"/><rect x="110" y="12" width="7" height="10" fill="#10e8e8"/><rect x="117" y="12" width="10" height="10" fill="#10e8e8"/><rect x="9" y="22" width="10" height="7" fill="#ffd000"/><rect x="19" y="22" width="7" height="7" fill="#b0f020"/><rect x="26" y="22" width="7" height="7" fill="#ffa000"/><rect x="33" y="22" width="7" height="7" fill="#ff6000"/><rect x="40" y="22" width="7" height="7" fill="#ffa000"/><rect x="47" y="22" width="7" height="7" fill="#b0f020"/><rect x="54" y="22" width="7" height="7" fill="#20c0f8"/><rect x="61" y="22" width="7" height="7" fill="#2890ff"/><rect x="68" y="22" width="7" height="7" fill="#2060f8"/><rect x="75" y="22" width="7" height="7" fill="#2060f8"/><rect x="82" y="22" width="7" height="7" fill="#2060f8"/><rect x="89" y="22" width="7" height="7" fill="#e048f0"/><rect x="96" y="22" width="7" height="7" fill="#e048f0"/><rect x="103" y="22" width="7" height="7" fill="#e048f0"/><rect x="110" y="22" width="7" height="7" fill="#e048f0"/><rect x="117" y="22" width="10" height="7" fill="#2060f8"/><rect x="9" y="29" width="10" height="7" fill="#ffa000"/><rect x="19" y="29" width="7" height="7" fill="#ffd000"/><rect x="26" y="29" width="7" height="7" fill="#ffa000"/><rect x="33" y="29" width="7" height="7" fill="#ff6000"/><rect x="40" y="29" width="7" height="7" fill="#ff6000"/><rect x="47" y="29" width="7" height="7" fill="#ffd000"/><rect x="54" y="29" width="7" height="7" fill="#20f0a0"/><rect x="61" y="29" width="7" height="7" fill="#20c0f8"/><rect x="68" y="29" width="7" height="7" fill="#2060f8"/><rect x="75" y="29" width="7" height="7" fill="#9810b8"/><rect x="82" y="29" width="7" height="7" fill="#9810b8"/><rect x="89" y="29" width="7" height="7" fill="#e048f0"/><rect x="96" y="29" width="7" height="7" fill="#9810b8"/><rect x="103" y="29" width="7" height="7" fill="#e048f0"/><rect x="110" y="29" width="7" height="7" fill="#e048f0"/><rect x="117" y="29" width="10" height="7" fill="#9810b8"/><rect x="9" y="36" width="10" height="7" fill="#20c0f8"/><rect x="19" y="36" width="7" height="7" fill="#10e8e8"/><rect x="26" y="36" width="7" height="7" fill="#b0f020"/><rect x="33" y="36" width="7" height="7" fill="#ffa000"/><rect x="40" y="36" width="7" height="7" fill="#b0f020"/><rect x="47" y="36" width="7" height="7" fill="#ffd000"/><rect x="54" y="36" width="7" height="7" fill="#10e8e8"/><rect x="61" y="36" width="7" height="7" fill="#2890ff"/><rect x="68" y="36" width="7" height="7" fill="#9810b8"/><rect x="75" y="36" width="7" height="7" fill="#9810b8"/><rect x="82" y="36" width="7" height="7" fill="#9810b8"/><rect x="89" y="36" width="7" height="7" fill="#9810b8"/><rect x="96" y="36" width="7" height="7" fill="#2060f8"/><rect x="103" y="36" width="7" height="7" fill="#2060f8"/><rect x="110" y="36" width="7" height="7" fill="#2060f8"/><rect x="117" y="36" width="10" height="7" fill="#2060f8"/><rect x="9" y="43" width="10" height="7" fill="#ffd000"/><rect x="19" y="43" width="7" height="7" fill="#10e8e8"/><rect x="26" y="43" width="7" height="7" fill="#b0f020"/><rect x="33" y="43" width="7" height="7" fill="#ff6000"/><rect x="40" y="43" width="7" height="7" fill="#ffa000"/><rect x="47" y="43" width="7" height="7" fill="#ffa000"/><rect x="54" y="43" width="7" height="7" fill="#20c0f8"/><rect x="61" y="43" width="7" height="7" fill="#2060f8"/><rect x="68" y="43" width="7" height="7" fill="#2060f8"/><rect x="75" y="43" width="7" height="7" fill="#2060f8"/><rect x="82" y="43" width="7" height="7" fill="#2060f8"/><rect x="89" y="43" width="7" height="7" fill="#20c0f8"/><rect x="96" y="43" width="7" height="7" fill="#10e8e8"/><rect x="103" y="43" width="7" height="7" fill="#2060f8"/><rect x="110" y="43" width="7" height="7" fill="#2060f8"/><rect x="117" y="43" width="10" height="7" fill="#2060f8"/><rect x="9" y="50" width="10" height="7" fill="#2030e0"/><rect x="19" y="50" width="7" height="7" fill="#20c0f8"/><rect x="26" y="50" width="7" height="7" fill="#20f0a0"/><rect x="33" y="50" width="7" height="7" fill="#ffa000"/><rect x="40" y="50" width="7" height="7" fill="#ffa000"/><rect x="47" y="50" width="7" height="7" fill="#ffd000"/><rect x="54" y="50" width="7" height="7" fill="#10e8e8"/><rect x="61" y="50" width="7" height="7" fill="#2060f8"/><rect x="68" y="50" width="7" height="7" fill="#2060f8"/><rect x="75" y="50" width="7" height="7" fill="#2060f8"/><rect x="82" y="50" width="7" height="7" fill="#2890ff"/><rect x="89" y="50" width="7" height="7" fill="#20c0f8"/><rect x="96" y="50" width="7" height="7" fill="#2060f8"/><rect x="103" y="50" width="7" height="7" fill="#2060f8"/><rect x="110" y="50" width="7" height="7" fill="#2060f8"/><rect x="117" y="50" width="10" height="7" fill="#2060f8"/><rect x="9" y="57" width="10" height="7" fill="#10e8e8"/><rect x="19" y="57" width="7" height="7" fill="#10e8e8"/><rect x="26" y="57" width="7" height="7" fill="#10e8e8"/><rect x="33" y="57" width="7" height="7" fill="#10e8e8"/><rect x="40" y="57" width="7" height="7" fill="#10e8e8"/><rect x="47" y="57" width="7" height="7" fill="#b0f020"/><rect x="54" y="57" width="7" height="7" fill="#10e8e8"/><rect x="61" y="57" width="7" height="7" fill="#2060f8"/><rect x="68" y="57" width="7" height="7" fill="#20c0f8"/><rect x="75" y="57" width="7" height="7" fill="#10e8e8"/><rect x="82" y="57" width="7" height="7" fill="#2060f8"/><rect x="89" y="57" width="7" height="7" fill="#2060f8"/><rect x="96" y="57" width="7" height="7" fill="#10e8e8"/><rect x="103" y="57" width="7" height="7" fill="#10e8e8"/><rect x="110" y="57" width="7" height="7" fill="#10e8e8"/><rect x="117" y="57" width="10" height="7" fill="#10e8e8"/><rect x="9" y="64" width="10" height="10" fill="#10e8e8"/><rect x="19" y="64" width="7" height="10" fill="#10e8e8"/><rect x="26" y="64" width="7" height="10" fill="#10e8e8"/><rect x="33" y="64" width="7" height="10" fill="#10e8e8"/><rect x="40" y="64" width="7" height="10" fill="#10e8e8"/><rect x="47" y="64" width="7" height="10" fill="#10e8e8"/><rect x="54" y="64" width="7" height="10" fill="#10e8e8"/><rect x="61" y="64" width="7" height="10" fill="#2060f8"/><rect x="68" y="64" width="7" height="10" fill="#2890ff"/><rect x="75" y="64" width="7" height="10" fill="#2890ff"/><rect x="82" y="64" width="7" height="10" fill="#2890ff"/><rect x="89" y="64" width="7" height="10" fill="#2890ff"/><rect x="96" y="64" width="7" height="10" fill="#20f0a0"/><rect x="103" y="64" width="7" height="10" fill="#20f0a0"/><rect x="110" y="64" width="7" height="10" fill="#20f0a0"/><rect x="117" y="64" width="10" height="10" fill="#20f0a0"/></g></g>
<use href="#geo"/>
<circle cx="102.6" cy="67.8" r="0.55" fill="#35358f"/>
<circle cx="104.0" cy="69.4" r="0.55" fill="#35358f"/>
<circle cx="103.4" cy="71.2" r="0.55" fill="#35358f"/>
<circle cx="105.6" cy="71.8" r="0.55" fill="#35358f"/>
<circle cx="106.4" cy="73.6" r="0.55" fill="#35358f"/>
<circle cx="108.8" cy="75.6" r="0.55" fill="#35358f"/>
<circle cx="110.6" cy="77.0" r="0.55" fill="#35358f"/>
<circle cx="112.6" cy="77.6" r="0.55" fill="#35358f"/>
<circle cx="111.0" cy="79.0" r="0.55" fill="#35358f"/>
<rect x="0" y="0" width="140" height="84" fill="none" stroke="#4040a8" stroke-width="1.2"/>
</g>
<text x="728.5" y="588.2" text-anchor="middle" font-family="Liberation Sans, sans-serif" font-weight="bold" font-size="7.2" fill="#35358f" textLength="24" lengthAdjust="spacingAndGlyphs">phase 4</text>
<g transform="translate(658.5 590.6)">
<g clip-path="url(#us)"><g filter="url(#bs)"><rect x="9" y="12" width="10" height="10" fill="#ffd000"/><rect x="19" y="12" width="7" height="10" fill="#ffd000"/><rect x="26" y="12" width="7" height="10" fill="#f0f000"/><rect x="33" y="12" width="7" height="10" fill="#f0f000"/><rect x="40" y="12" width="7" height="10" fill="#ffd000"/><rect x="47" y="12" width="7" height="10" fill="#f0f000"/><rect x="54" y="12" width="7" height="10" fill="#20f0a0"/><rect x="61" y="12" width="7" height="10" fill="#2890ff"/><rect x="68" y="12" width="7" height="10" fill="#e048f0"/><rect x="75" y="12" width="7" height="10" fill="#e048f0"/><rect x="82" y="12" width="7" height="10" fill="#e048f0"/><rect x="89" y="12" width="7" height="10" fill="#e048f0"/><rect x="96" y="12" width="7" height="10" fill="#9810b8"/><rect x="103" y="12" width="7" height="10" fill="#9810b8"/><rect x="110" y="12" width="7" height="10" fill="#9810b8"/><rect x="117" y="12" width="10" height="10" fill="#2060f8"/><rect x="9" y="22" width="10" height="7" fill="#ffa000"/><rect x="19" y="22" width="7" height="7" fill="#f0f000"/><rect x="26" y="22" width="7" height="7" fill="#f0f000"/><rect x="33" y="22" width="7" height="7" fill="#20f0a0"/><rect x="40" y="22" width="7" height="7" fill="#20f0a0"/><rect x="47" y="22" width="7" height="7" fill="#10e8e8"/><rect x="54" y="22" width="7" height="7" fill="#2890ff"/><rect x="61" y="22" width="7" height="7" fill="#2060f8"/><rect x="68" y="22" width="7" height="7" fill="#9810b8"/><rect x="75" y="22" width="7" height="7" fill="#e048f0"/><rect x="82" y="22" width="7" height="7" fill="#e048f0"/><rect x="89" y="22" width="7" height="7" fill="#9810b8"/><rect x="96" y="22" width="7" height="7" fill="#9810b8"/><rect x="103" y="22" width="7" height="7" fill="#9810b8"/><rect x="110" y="22" width="7" height="7" fill="#9810b8"/><rect x="117" y="22" width="10" height="7" fill="#2060f8"/><rect x="9" y="29" width="10" height="7" fill="#ff2000"/><rect x="19" y="29" width="7" height="7" fill="#ff6000"/><rect x="26" y="29" width="7" height="7" fill="#f0f000"/><rect x="33" y="29" width="7" height="7" fill="#20f0a0"/><rect x="40" y="29" width="7" height="7" fill="#60f050"/><rect x="47" y="29" width="7" height="7" fill="#b0f020"/><rect x="54" y="29" width="7" height="7" fill="#20c0f8"/><rect x="61" y="29" width="7" height="7" fill="#2060f8"/><rect x="68" y="29" width="7" height="7" fill="#2030e0"/><rect x="75" y="29" width="7" height="7" fill="#9810b8"/><rect x="82" y="29" width="7" height="7" fill="#9810b8"/><rect x="89" y="29" width="7" height="7" fill="#9810b8"/><rect x="96" y="29" width="7" height="7" fill="#9810b8"/><rect x="103" y="29" width="7" height="7" fill="#9810b8"/><rect x="110" y="29" width="7" height="7" fill="#9810b8"/><rect x="117" y="29" width="10" height="7" fill="#9810b8"/><rect x="9" y="36" width="10" height="7" fill="#10e8e8"/><rect x="19" y="36" width="7" height="7" fill="#ffa000"/><rect x="26" y="36" width="7" height="7" fill="#f0f000"/><rect x="33" y="36" width="7" height="7" fill="#f0f000"/><rect x="40" y="36" width="7" height="7" fill="#b0f020"/><rect x="47" y="36" width="7" height="7" fill="#2060f8"/><rect x="54" y="36" width="7" height="7" fill="#2030e0"/><rect x="61" y="36" width="7" height="7" fill="#9810b8"/><rect x="68" y="36" width="7" height="7" fill="#e048f0"/><rect x="75" y="36" width="7" height="7" fill="#e048f0"/><rect x="82" y="36" width="7" height="7" fill="#9810b8"/><rect x="89" y="36" width="7" height="7" fill="#2060f8"/><rect x="96" y="36" width="7" height="7" fill="#2060f8"/><rect x="103" y="36" width="7" height="7" fill="#2890ff"/><rect x="110" y="36" width="7" height="7" fill="#2890ff"/><rect x="117" y="36" width="10" height="7" fill="#2890ff"/><rect x="9" y="43" width="10" height="7" fill="#10e8e8"/><rect x="19" y="43" width="7" height="7" fill="#60f050"/><rect x="26" y="43" width="7" height="7" fill="#b0f020"/><rect x="33" y="43" width="7" height="7" fill="#ffd000"/><rect x="40" y="43" width="7" height="7" fill="#b0f020"/><rect x="47" y="43" width="7" height="7" fill="#2060f8"/><rect x="54" y="43" width="7" height="7" fill="#2030e0"/><rect x="61" y="43" width="7" height="7" fill="#9810b8"/><rect x="68" y="43" width="7" height="7" fill="#e048f0"/><rect x="75" y="43" width="7" height="7" fill="#e048f0"/><rect x="82" y="43" width="7" height="7" fill="#2030e0"/><rect x="89" y="43" width="7" height="7" fill="#2060f8"/><rect x="96" y="43" width="7" height="7" fill="#2890ff"/><rect x="103" y="43" width="7" height="7" fill="#20c0f8"/><rect x="110" y="43" width="7" height="7" fill="#20c0f8"/><rect x="117" y="43" width="10" height="7" fill="#20c0f8"/><rect x="9" y="50" width="10" height="7" fill="#10e8e8"/><rect x="19" y="50" width="7" height="7" fill="#10e8e8"/><rect x="26" y="50" width="7" height="7" fill="#10e8e8"/><rect x="33" y="50" width="7" height="7" fill="#10e8e8"/><rect x="40" y="50" width="7" height="7" fill="#10e8e8"/><rect x="47" y="50" width="7" height="7" fill="#2060f8"/><rect x="54" y="50" width="7" height="7" fill="#9810b8"/><rect x="61" y="50" width="7" height="7" fill="#9810b8"/><rect x="68" y="50" width="7" height="7" fill="#9810b8"/><rect x="75" y="50" width="7" height="7" fill="#9810b8"/><rect x="82" y="50" width="7" height="7" fill="#f0f000"/><rect x="89" y="50" width="7" height="7" fill="#ffd000"/><rect x="96" y="50" width="7" height="7" fill="#20c0f8"/><rect x="103" y="50" width="7" height="7" fill="#20c0f8"/><rect x="110" y="50" width="7" height="7" fill="#20c0f8"/><rect x="117" y="50" width="10" height="7" fill="#20c0f8"/><rect x="9" y="57" width="10" height="7" fill="#10e8e8"/><rect x="19" y="57" width="7" height="7" fill="#10e8e8"/><rect x="26" y="57" width="7" height="7" fill="#10e8e8"/><rect x="33" y="57" width="7" height="7" fill="#10e8e8"/><rect x="40" y="57" width="7" height="7" fill="#10e8e8"/><rect x="47" y="57" width="7" height="7" fill="#10e8e8"/><rect x="54" y="57" width="7" height="7" fill="#2060f8"/><rect x="61" y="57" width="7" height="7" fill="#2890ff"/><rect x="68" y="57" width="7" height="7" fill="#2060f8"/><rect x="75" y="57" width="7" height="7" fill="#2890ff"/><rect x="82" y="57" width="7" height="7" fill="#10e8e8"/><rect x="89" y="57" width="7" height="7" fill="#ffd000"/><rect x="96" y="57" width="7" height="7" fill="#ff6000"/><rect x="103" y="57" width="7" height="7" fill="#ff6000"/><rect x="110" y="57" width="7" height="7" fill="#ff6000"/><rect x="117" y="57" width="10" height="7" fill="#ff6000"/><rect x="9" y="64" width="10" height="10" fill="#10e8e8"/><rect x="19" y="64" width="7" height="10" fill="#10e8e8"/><rect x="26" y="64" width="7" height="10" fill="#10e8e8"/><rect x="33" y="64" width="7" height="10" fill="#10e8e8"/><rect x="40" y="64" width="7" height="10" fill="#10e8e8"/><rect x="47" y="64" width="7" height="10" fill="#10e8e8"/><rect x="54" y="64" width="7" height="10" fill="#10e8e8"/><rect x="61" y="64" width="7" height="10" fill="#2060f8"/><rect x="68" y="64" width="7" height="10" fill="#2890ff"/><rect x="75" y="64" width="7" height="10" fill="#2890ff"/><rect x="82" y="64" width="7" height="10" fill="#10e8e8"/><rect x="89" y="64" width="7" height="10" fill="#ffa000"/><rect x="96" y="64" width="7" height="10" fill="#ff6000"/><rect x="103" y="64" width="7" height="10" fill="#ff2000"/><rect x="110" y="64" width="7" height="10" fill="#ff2000"/><rect x="117" y="64" width="10" height="10" fill="#ff2000"/></g></g>
<use href="#geo"/>
<circle cx="102.6" cy="67.8" r="0.55" fill="#35358f"/>
<circle cx="104.0" cy="69.4" r="0.55" fill="#35358f"/>
<circle cx="103.4" cy="71.2" r="0.55" fill="#35358f"/>
<circle cx="105.6" cy="71.8" r="0.55" fill="#35358f"/>
<circle cx="106.4" cy="73.6" r="0.55" fill="#35358f"/>
<circle cx="108.8" cy="75.6" r="0.55" fill="#35358f"/>
<circle cx="110.6" cy="77.0" r="0.55" fill="#35358f"/>
<circle cx="112.6" cy="77.6" r="0.55" fill="#35358f"/>
<circle cx="111.0" cy="79.0" r="0.55" fill="#35358f"/>
<rect x="0" y="0" width="140" height="84" fill="none" stroke="#4040a8" stroke-width="1.2"/>
</g>
<text x="896.0" y="265.9" text-anchor="middle" font-family="Liberation Sans, sans-serif" font-weight="bold" font-size="7.2" fill="#35358f" textLength="24" lengthAdjust="spacingAndGlyphs">phase 5</text>
<g transform="translate(826.0 268.3)">
<g clip-path="url(#us)"><g filter="url(#bs)"><rect x="9" y="12" width="10" height="10" fill="#10e8e8"/><rect x="19" y="12" width="7" height="10" fill="#10e8e8"/><rect x="26" y="12" width="7" height="10" fill="#20c0f8"/><rect x="33" y="12" width="7" height="10" fill="#2890ff"/><rect x="40" y="12" width="7" height="10" fill="#9810b8"/><rect x="47" y="12" width="7" height="10" fill="#9810b8"/><rect x="54" y="12" width="7" height="10" fill="#9810b8"/><rect x="61" y="12" width="7" height="10" fill="#e048f0"/><rect x="68" y="12" width="7" height="10" fill="#e048f0"/><rect x="75" y="12" width="7" height="10" fill="#e048f0"/><rect x="82" y="12" width="7" height="10" fill="#e048f0"/><rect x="89" y="12" width="7" height="10" fill="#e048f0"/><rect x="96" y="12" width="7" height="10" fill="#e048f0"/><rect x="103" y="12" width="7" height="10" fill="#e048f0"/><rect x="110" y="12" width="7" height="10" fill="#e048f0"/><rect x="117" y="12" width="10" height="10" fill="#e048f0"/><rect x="9" y="22" width="10" height="7" fill="#20f0a0"/><rect x="19" y="22" width="7" height="7" fill="#20c0f8"/><rect x="26" y="22" width="7" height="7" fill="#10e8e8"/><rect x="33" y="22" width="7" height="7" fill="#20f0a0"/><rect x="40" y="22" width="7" height="7" fill="#60f050"/><rect x="47" y="22" width="7" height="7" fill="#2890ff"/><rect x="54" y="22" width="7" height="7" fill="#2060f8"/><rect x="61" y="22" width="7" height="7" fill="#9810b8"/><rect x="68" y="22" width="7" height="7" fill="#e048f0"/><rect x="75" y="22" width="7" height="7" fill="#e048f0"/><rect x="82" y="22" width="7" height="7" fill="#e048f0"/><rect x="89" y="22" width="7" height="7" fill="#e048f0"/><rect x="96" y="22" width="7" height="7" fill="#e048f0"/><rect x="103" y="22" width="7" height="7" fill="#e048f0"/><rect x="110" y="22" width="7" height="7" fill="#e048f0"/><rect x="117" y="22" width="10" height="7" fill="#e048f0"/><rect x="9" y="29" width="10" height="7" fill="#ff6000"/><rect x="19" y="29" width="7" height="7" fill="#ffa000"/><rect x="26" y="29" width="7" height="7" fill="#f0f000"/><rect x="33" y="29" width="7" height="7" fill="#10e8e8"/><rect x="40" y="29" width="7" height="7" fill="#ffa000"/><rect x="47" y="29" width="7" height="7" fill="#ff6000"/><rect x="54" y="29" width="7" height="7" fill="#f0f000"/><rect x="61" y="29" width="7" height="7" fill="#20c0f8"/><rect x="68" y="29" width="7" height="7" fill="#2060f8"/><rect x="75" y="29" width="7" height="7" fill="#9810b8"/><rect x="82" y="29" width="7" height="7" fill="#9810b8"/><rect x="89" y="29" width="7" height="7" fill="#9810b8"/><rect x="96" y="29" width="7" height="7" fill="#9810b8"/><rect x="103" y="29" width="7" height="7" fill="#e048f0"/><rect x="110" y="29" width="7" height="7" fill="#e048f0"/><rect x="117" y="29" width="10" height="7" fill="#e048f0"/><rect x="9" y="36" width="10" height="7" fill="#ffa000"/><rect x="19" y="36" width="7" height="7" fill="#ff6000"/><rect x="26" y="36" width="7" height="7" fill="#ff6000"/><rect x="33" y="36" width="7" height="7" fill="#10e8e8"/><rect x="40" y="36" width="7" height="7" fill="#ff6000"/><rect x="47" y="36" width="7" height="7" fill="#ffa000"/><rect x="54" y="36" width="7" height="7" fill="#f0f000"/><rect x="61" y="36" width="7" height="7" fill="#20c0f8"/><rect x="68" y="36" width="7" height="7" fill="#2890ff"/><rect x="75" y="36" width="7" height="7" fill="#2060f8"/><rect x="82" y="36" width="7" height="7" fill="#2030e0"/><rect x="89" y="36" width="7" height="7" fill="#9810b8"/><rect x="96" y="36" width="7" height="7" fill="#9810b8"/><rect x="103" y="36" width="7" height="7" fill="#9810b8"/><rect x="110" y="36" width="7" height="7" fill="#9810b8"/><rect x="117" y="36" width="10" height="7" fill="#9810b8"/><rect x="9" y="43" width="10" height="7" fill="#ffd000"/><rect x="19" y="43" width="7" height="7" fill="#ff6000"/><rect x="26" y="43" width="7" height="7" fill="#ff2000"/><rect x="33" y="43" width="7" height="7" fill="#ff6000"/><rect x="40" y="43" width="7" height="7" fill="#ff2000"/><rect x="47" y="43" width="7" height="7" fill="#ff6000"/><rect x="54" y="43" width="7" height="7" fill="#f0f000"/><rect x="61" y="43" width="7" height="7" fill="#2890ff"/><rect x="68" y="43" width="7" height="7" fill="#2060f8"/><rect x="75" y="43" width="7" height="7" fill="#2060f8"/><rect x="82" y="43" width="7" height="7" fill="#2030e0"/><rect x="89" y="43" width="7" height="7" fill="#2060f8"/><rect x="96" y="43" width="7" height="7" fill="#2060f8"/><rect x="103" y="43" width="7" height="7" fill="#2060f8"/><rect x="110" y="43" width="7" height="7" fill="#9810b8"/><rect x="117" y="43" width="10" height="7" fill="#9810b8"/><rect x="9" y="50" width="10" height="7" fill="#f0f000"/><rect x="19" y="50" width="7" height="7" fill="#ffa000"/><rect x="26" y="50" width="7" height="7" fill="#ff6000"/><rect x="33" y="50" width="7" height="7" fill="#ff6000"/><rect x="40" y="50" width="7" height="7" fill="#ff2000"/><rect x="47" y="50" width="7" height="7" fill="#ff6000"/><rect x="54" y="50" width="7" height="7" fill="#f0f000"/><rect x="61" y="50" width="7" height="7" fill="#2890ff"/><rect x="68" y="50" width="7" height="7" fill="#2890ff"/><rect x="75" y="50" width="7" height="7" fill="#20c0f8"/><rect x="82" y="50" width="7" height="7" fill="#10e8e8"/><rect x="89" y="50" width="7" height="7" fill="#10e8e8"/><rect x="96" y="50" width="7" height="7" fill="#10e8e8"/><rect x="103" y="50" width="7" height="7" fill="#10e8e8"/><rect x="110" y="50" width="7" height="7" fill="#10e8e8"/><rect x="117" y="50" width="10" height="7" fill="#10e8e8"/><rect x="9" y="57" width="10" height="7" fill="#10e8e8"/><rect x="19" y="57" width="7" height="7" fill="#10e8e8"/><rect x="26" y="57" width="7" height="7" fill="#10e8e8"/><rect x="33" y="57" width="7" height="7" fill="#10e8e8"/><rect x="40" y="57" width="7" height="7" fill="#20f0a0"/><rect x="47" y="57" width="7" height="7" fill="#f0f000"/><rect x="54" y="57" width="7" height="7" fill="#ffd000"/><rect x="61" y="57" width="7" height="7" fill="#2890ff"/><rect x="68" y="57" width="7" height="7" fill="#2060f8"/><rect x="75" y="57" width="7" height="7" fill="#ff6000"/><rect x="82" y="57" width="7" height="7" fill="#ff2000"/><rect x="89" y="57" width="7" height="7" fill="#ff2000"/><rect x="96" y="57" width="7" height="7" fill="#ff6000"/><rect x="103" y="57" width="7" height="7" fill="#ffa000"/><rect x="110" y="57" width="7" height="7" fill="#ffa000"/><rect x="117" y="57" width="10" height="7" fill="#ffa000"/><rect x="9" y="64" width="10" height="10" fill="#10e8e8"/><rect x="19" y="64" width="7" height="10" fill="#10e8e8"/><rect x="26" y="64" width="7" height="10" fill="#10e8e8"/><rect x="33" y="64" width="7" height="10" fill="#10e8e8"/><rect x="40" y="64" width="7" height="10" fill="#10e8e8"/><rect x="47" y="64" width="7" height="10" fill="#10e8e8"/><rect x="54" y="64" width="7" height="10" fill="#10e8e8"/><rect x="61" y="64" width="7" height="10" fill="#2060f8"/><rect x="68" y="64" width="7" height="10" fill="#2060f8"/><rect x="75" y="64" width="7" height="10" fill="#2890ff"/><rect x="82" y="64" width="7" height="10" fill="#20f0a0"/><rect x="89" y="64" width="7" height="10" fill="#ff2000"/><rect x="96" y="64" width="7" height="10" fill="#ff2000"/><rect x="103" y="64" width="7" height="10" fill="#ff6000"/><rect x="110" y="64" width="7" height="10" fill="#ff6000"/><rect x="117" y="64" width="10" height="10" fill="#ff6000"/></g></g>
<use href="#geo"/>
<circle cx="102.6" cy="67.8" r="0.55" fill="#35358f"/>
<circle cx="104.0" cy="69.4" r="0.55" fill="#35358f"/>
<circle cx="103.4" cy="71.2" r="0.55" fill="#35358f"/>
<circle cx="105.6" cy="71.8" r="0.55" fill="#35358f"/>
<circle cx="106.4" cy="73.6" r="0.55" fill="#35358f"/>
<circle cx="108.8" cy="75.6" r="0.55" fill="#35358f"/>
<circle cx="110.6" cy="77.0" r="0.55" fill="#35358f"/>
<circle cx="112.6" cy="77.6" r="0.55" fill="#35358f"/>
<circle cx="111.0" cy="79.0" r="0.55" fill="#35358f"/>
<rect x="0" y="0" width="140" height="84" fill="none" stroke="#4040a8" stroke-width="1.2"/>
</g>
<text x="896.0" y="373.6" text-anchor="middle" font-family="Liberation Sans, sans-serif" font-weight="bold" font-size="7.2" fill="#35358f" textLength="24" lengthAdjust="spacingAndGlyphs">phase 6</text>
<g transform="translate(826.0 376.0)">
<g clip-path="url(#us)"><g filter="url(#bs)"><rect x="9" y="12" width="10" height="10" fill="#ff6000"/><rect x="19" y="12" width="7" height="10" fill="#f0f000"/><rect x="26" y="12" width="7" height="10" fill="#f0f000"/><rect x="33" y="12" width="7" height="10" fill="#b0f020"/><rect x="40" y="12" width="7" height="10" fill="#20c0f8"/><rect x="47" y="12" width="7" height="10" fill="#20c0f8"/><rect x="54" y="12" width="7" height="10" fill="#2890ff"/><rect x="61" y="12" width="7" height="10" fill="#2890ff"/><rect x="68" y="12" width="7" height="10" fill="#20c0f8"/><rect x="75" y="12" width="7" height="10" fill="#2890ff"/><rect x="82" y="12" width="7" height="10" fill="#9810b8"/><rect x="89" y="12" width="7" height="10" fill="#e048f0"/><rect x="96" y="12" width="7" height="10" fill="#e048f0"/><rect x="103" y="12" width="7" height="10" fill="#e048f0"/><rect x="110" y="12" width="7" height="10" fill="#e048f0"/><rect x="117" y="12" width="10" height="10" fill="#e048f0"/><rect x="9" y="22" width="10" height="7" fill="#10e8e8"/><rect x="19" y="22" width="7" height="7" fill="#10e8e8"/><rect x="26" y="22" width="7" height="7" fill="#20c0f8"/><rect x="33" y="22" width="7" height="7" fill="#20c0f8"/><rect x="40" y="22" width="7" height="7" fill="#60f050"/><rect x="47" y="22" width="7" height="7" fill="#20c0f8"/><rect x="54" y="22" width="7" height="7" fill="#2890ff"/><rect x="61" y="22" width="7" height="7" fill="#9810b8"/><rect x="68" y="22" width="7" height="7" fill="#9810b8"/><rect x="75" y="22" width="7" height="7" fill="#e048f0"/><rect x="82" y="22" width="7" height="7" fill="#e048f0"/><rect x="89" y="22" width="7" height="7" fill="#e048f0"/><rect x="96" y="22" width="7" height="7" fill="#e048f0"/><rect x="103" y="22" width="7" height="7" fill="#e048f0"/><rect x="110" y="22" width="7" height="7" fill="#e048f0"/><rect x="117" y="22" width="10" height="7" fill="#e048f0"/><rect x="9" y="29" width="10" height="7" fill="#ffa000"/><rect x="19" y="29" width="7" height="7" fill="#ff6000"/><rect x="26" y="29" width="7" height="7" fill="#ffa000"/><rect x="33" y="29" width="7" height="7" fill="#10e8e8"/><rect x="40" y="29" width="7" height="7" fill="#20c0f8"/><rect x="47" y="29" width="7" height="7" fill="#10e8e8"/><rect x="54" y="29" width="7" height="7" fill="#2890ff"/><rect x="61" y="29" width="7" height="7" fill="#9810b8"/><rect x="68" y="29" width="7" height="7" fill="#e048f0"/><rect x="75" y="29" width="7" height="7" fill="#e048f0"/><rect x="82" y="29" width="7" height="7" fill="#e048f0"/><rect x="89" y="29" width="7" height="7" fill="#e048f0"/><rect x="96" y="29" width="7" height="7" fill="#e048f0"/><rect x="103" y="29" width="7" height="7" fill="#e048f0"/><rect x="110" y="29" width="7" height="7" fill="#e048f0"/><rect x="117" y="29" width="10" height="7" fill="#e048f0"/><rect x="9" y="36" width="10" height="7" fill="#20c0f8"/><rect x="19" y="36" width="7" height="7" fill="#ff2000"/><rect x="26" y="36" width="7" height="7" fill="#ffd000"/><rect x="33" y="36" width="7" height="7" fill="#20c0f8"/><rect x="40" y="36" width="7" height="7" fill="#10e8e8"/><rect x="47" y="36" width="7" height="7" fill="#20f0a0"/><rect x="54" y="36" width="7" height="7" fill="#2890ff"/><rect x="61" y="36" width="7" height="7" fill="#e048f0"/><rect x="68" y="36" width="7" height="7" fill="#e048f0"/><rect x="75" y="36" width="7" height="7" fill="#e048f0"/><rect x="82" y="36" width="7" height="7" fill="#e048f0"/><rect x="89" y="36" width="7" height="7" fill="#e048f0"/><rect x="96" y="36" width="7" height="7" fill="#e048f0"/><rect x="103" y="36" width="7" height="7" fill="#e048f0"/><rect x="110" y="36" width="7" height="7" fill="#e048f0"/><rect x="117" y="36" width="10" height="7" fill="#e048f0"/><rect x="9" y="43" width="10" height="7" fill="#f0f000"/><rect x="19" y="43" width="7" height="7" fill="#f0f000"/><rect x="26" y="43" width="7" height="7" fill="#b0f020"/><rect x="33" y="43" width="7" height="7" fill="#f0f000"/><rect x="40" y="43" width="7" height="7" fill="#f0f000"/><rect x="47" y="43" width="7" height="7" fill="#10e8e8"/><rect x="54" y="43" width="7" height="7" fill="#2890ff"/><rect x="61" y="43" width="7" height="7" fill="#e048f0"/><rect x="68" y="43" width="7" height="7" fill="#e048f0"/><rect x="75" y="43" width="7" height="7" fill="#e048f0"/><rect x="82" y="43" width="7" height="7" fill="#e048f0"/><rect x="89" y="43" width="7" height="7" fill="#e048f0"/><rect x="96" y="43" width="7" height="7" fill="#e048f0"/><rect x="103" y="43" width="7" height="7" fill="#9810b8"/><rect x="110" y="43" width="7" height="7" fill="#e048f0"/><rect x="117" y="43" width="10" height="7" fill="#e048f0"/><rect x="9" y="50" width="10" height="7" fill="#b0f020"/><rect x="19" y="50" width="7" height="7" fill="#b0f020"/><rect x="26" y="50" width="7" height="7" fill="#10e8e8"/><rect x="33" y="50" width="7" height="7" fill="#2890ff"/><rect x="40" y="50" width="7" height="7" fill="#2060f8"/><rect x="47" y="50" width="7" height="7" fill="#2890ff"/><rect x="54" y="50" width="7" height="7" fill="#9810b8"/><rect x="61" y="50" width="7" height="7" fill="#e048f0"/><rect x="68" y="50" width="7" height="7" fill="#e048f0"/><rect x="75" y="50" width="7" height="7" fill="#e048f0"/><rect x="82" y="50" width="7" height="7" fill="#e048f0"/><rect x="89" y="50" width="7" height="7" fill="#e048f0"/><rect x="96" y="50" width="7" height="7" fill="#9810b8"/><rect x="103" y="50" width="7" height="7" fill="#9810b8"/><rect x="110" y="50" width="7" height="7" fill="#e048f0"/><rect x="117" y="50" width="10" height="7" fill="#e048f0"/><rect x="9" y="57" width="10" height="7" fill="#10e8e8"/><rect x="19" y="57" width="7" height="7" fill="#10e8e8"/><rect x="26" y="57" width="7" height="7" fill="#10e8e8"/><rect x="33" y="57" width="7" height="7" fill="#10e8e8"/><rect x="40" y="57" width="7" height="7" fill="#10e8e8"/><rect x="47" y="57" width="7" height="7" fill="#ffd000"/><rect x="54" y="57" width="7" height="7" fill="#9810b8"/><rect x="61" y="57" width="7" height="7" fill="#9810b8"/><rect x="68" y="57" width="7" height="7" fill="#e048f0"/><rect x="75" y="57" width="7" height="7" fill="#e048f0"/><rect x="82" y="57" width="7" height="7" fill="#e048f0"/><rect x="89" y="57" width="7" height="7" fill="#9810b8"/><rect x="96" y="57" width="7" height="7" fill="#9810b8"/><rect x="103" y="57" width="7" height="7" fill="#9810b8"/><rect x="110" y="57" width="7" height="7" fill="#9810b8"/><rect x="117" y="57" width="10" height="7" fill="#9810b8"/><rect x="9" y="64" width="10" height="10" fill="#10e8e8"/><rect x="19" y="64" width="7" height="10" fill="#10e8e8"/><rect x="26" y="64" width="7" height="10" fill="#10e8e8"/><rect x="33" y="64" width="7" height="10" fill="#10e8e8"/><rect x="40" y="64" width="7" height="10" fill="#10e8e8"/><rect x="47" y="64" width="7" height="10" fill="#10e8e8"/><rect x="54" y="64" width="7" height="10" fill="#9810b8"/><rect x="61" y="64" width="7" height="10" fill="#9810b8"/><rect x="68" y="64" width="7" height="10" fill="#e048f0"/><rect x="75" y="64" width="7" height="10" fill="#e048f0"/><rect x="82" y="64" width="7" height="10" fill="#e048f0"/><rect x="89" y="64" width="7" height="10" fill="#9810b8"/><rect x="96" y="64" width="7" height="10" fill="#2060f8"/><rect x="103" y="64" width="7" height="10" fill="#2060f8"/><rect x="110" y="64" width="7" height="10" fill="#2060f8"/><rect x="117" y="64" width="10" height="10" fill="#2060f8"/></g></g>
<use href="#geo"/>
<circle cx="102.6" cy="67.8" r="0.55" fill="#35358f"/>
<circle cx="104.0" cy="69.4" r="0.55" fill="#35358f"/>
<circle cx="103.4" cy="71.2" r="0.55" fill="#35358f"/>
<circle cx="105.6" cy="71.8" r="0.55" fill="#35358f"/>
<circle cx="106.4" cy="73.6" r="0.55" fill="#35358f"/>
<circle cx="108.8" cy="75.6" r="0.55" fill="#35358f"/>
<circle cx="110.6" cy="77.0" r="0.55" fill="#35358f"/>
<circle cx="112.6" cy="77.6" r="0.55" fill="#35358f"/>
<circle cx="111.0" cy="79.0" r="0.55" fill="#35358f"/>
<rect x="0" y="0" width="140" height="84" fill="none" stroke="#4040a8" stroke-width="1.2"/>
</g>
<text x="896.0" y="480.8" text-anchor="middle" font-family="Liberation Sans, sans-serif" font-weight="bold" font-size="7.2" fill="#35358f" textLength="24" lengthAdjust="spacingAndGlyphs">phase 7</text>
<g transform="translate(826.0 483.2)">
<g clip-path="url(#us)"><g filter="url(#bs)"><rect x="9" y="12" width="10" height="10" fill="#60f050"/><rect x="19" y="12" width="7" height="10" fill="#20f0a0"/><rect x="26" y="12" width="7" height="10" fill="#20c0f8"/><rect x="33" y="12" width="7" height="10" fill="#2890ff"/><rect x="40" y="12" width="7" height="10" fill="#2890ff"/><rect x="47" y="12" width="7" height="10" fill="#2890ff"/><rect x="54" y="12" width="7" height="10" fill="#9810b8"/><rect x="61" y="12" width="7" height="10" fill="#9810b8"/><rect x="68" y="12" width="7" height="10" fill="#9810b8"/><rect x="75" y="12" width="7" height="10" fill="#9810b8"/><rect x="82" y="12" width="7" height="10" fill="#2060f8"/><rect x="89" y="12" width="7" height="10" fill="#2060f8"/><rect x="96" y="12" width="7" height="10" fill="#2060f8"/><rect x="103" y="12" width="7" height="10" fill="#2060f8"/><rect x="110" y="12" width="7" height="10" fill="#ffd000"/><rect x="117" y="12" width="10" height="10" fill="#ffd000"/><rect x="9" y="22" width="10" height="7" fill="#ffa000"/><rect x="19" y="22" width="7" height="7" fill="#ffa000"/><rect x="26" y="22" width="7" height="7" fill="#ff6000"/><rect x="33" y="22" width="7" height="7" fill="#ffd000"/><rect x="40" y="22" width="7" height="7" fill="#b0f020"/><rect x="47" y="22" width="7" height="7" fill="#10e8e8"/><rect x="54" y="22" width="7" height="7" fill="#2890ff"/><rect x="61" y="22" width="7" height="7" fill="#9810b8"/><rect x="68" y="22" width="7" height="7" fill="#2030e0"/><rect x="75" y="22" width="7" height="7" fill="#2060f8"/><rect x="82" y="22" width="7" height="7" fill="#20c0f8"/><rect x="89" y="22" width="7" height="7" fill="#20f0a0"/><rect x="96" y="22" width="7" height="7" fill="#f0f000"/><rect x="103" y="22" width="7" height="7" fill="#f0f000"/><rect x="110" y="22" width="7" height="7" fill="#ffd000"/><rect x="117" y="22" width="10" height="7" fill="#ffa000"/><rect x="9" y="29" width="10" height="7" fill="#10e8e8"/><rect x="19" y="29" width="7" height="7" fill="#10e8e8"/><rect x="26" y="29" width="7" height="7" fill="#b0f020"/><rect x="33" y="29" width="7" height="7" fill="#ff2000"/><rect x="40" y="29" width="7" height="7" fill="#ff6000"/><rect x="47" y="29" width="7" height="7" fill="#ffa000"/><rect x="54" y="29" width="7" height="7" fill="#10e8e8"/><rect x="61" y="29" width="7" height="7" fill="#2060f8"/><rect x="68" y="29" width="7" height="7" fill="#2060f8"/><rect x="75" y="29" width="7" height="7" fill="#20c0f8"/><rect x="82" y="29" width="7" height="7" fill="#20f0a0"/><rect x="89" y="29" width="7" height="7" fill="#f0f000"/><rect x="96" y="29" width="7" height="7" fill="#ffa000"/><rect x="103" y="29" width="7" height="7" fill="#ffa000"/><rect x="110" y="29" width="7" height="7" fill="#ff6000"/><rect x="117" y="29" width="10" height="7" fill="#ff2000"/><rect x="9" y="36" width="10" height="7" fill="#20c0f8"/><rect x="19" y="36" width="7" height="7" fill="#10e8e8"/><rect x="26" y="36" width="7" height="7" fill="#ffd000"/><rect x="33" y="36" width="7" height="7" fill="#ff6000"/><rect x="40" y="36" width="7" height="7" fill="#b0f020"/><rect x="47" y="36" width="7" height="7" fill="#ff6000"/><rect x="54" y="36" width="7" height="7" fill="#ffa000"/><rect x="61" y="36" width="7" height="7" fill="#10e8e8"/><rect x="68" y="36" width="7" height="7" fill="#10e8e8"/><rect x="75" y="36" width="7" height="7" fill="#b0f020"/><rect x="82" y="36" width="7" height="7" fill="#f0f000"/><rect x="89" y="36" width="7" height="7" fill="#ffd000"/><rect x="96" y="36" width="7" height="7" fill="#ff6000"/><rect x="103" y="36" width="7" height="7" fill="#ffa000"/><rect x="110" y="36" width="7" height="7" fill="#ff6000"/><rect x="117" y="36" width="10" height="7" fill="#ff6000"/><rect x="9" y="43" width="10" height="7" fill="#2060f8"/><rect x="19" y="43" width="7" height="7" fill="#b0f020"/><rect x="26" y="43" width="7" height="7" fill="#ff6000"/><rect x="33" y="43" width="7" height="7" fill="#ff2000"/><rect x="40" y="43" width="7" height="7" fill="#f0f000"/><rect x="47" y="43" width="7" height="7" fill="#ff2000"/><rect x="54" y="43" width="7" height="7" fill="#ff6000"/><rect x="61" y="43" width="7" height="7" fill="#b0f020"/><rect x="68" y="43" width="7" height="7" fill="#f0f000"/><rect x="75" y="43" width="7" height="7" fill="#ffd000"/><rect x="82" y="43" width="7" height="7" fill="#ffa000"/><rect x="89" y="43" width="7" height="7" fill="#ff6000"/><rect x="96" y="43" width="7" height="7" fill="#ff2000"/><rect x="103" y="43" width="7" height="7" fill="#ff6000"/><rect x="110" y="43" width="7" height="7" fill="#ff6000"/><rect x="117" y="43" width="10" height="7" fill="#ff6000"/><rect x="9" y="50" width="10" height="7" fill="#ffa000"/><rect x="19" y="50" width="7" height="7" fill="#ffa000"/><rect x="26" y="50" width="7" height="7" fill="#f0f000"/><rect x="33" y="50" width="7" height="7" fill="#b0f020"/><rect x="40" y="50" width="7" height="7" fill="#ffd000"/><rect x="47" y="50" width="7" height="7" fill="#ff6000"/><rect x="54" y="50" width="7" height="7" fill="#ff6000"/><rect x="61" y="50" width="7" height="7" fill="#ff6000"/><rect x="68" y="50" width="7" height="7" fill="#ff2000"/><rect x="75" y="50" width="7" height="7" fill="#ff2000"/><rect x="82" y="50" width="7" height="7" fill="#ffa000"/><rect x="89" y="50" width="7" height="7" fill="#ff6000"/><rect x="96" y="50" width="7" height="7" fill="#ff2000"/><rect x="103" y="50" width="7" height="7" fill="#ff2000"/><rect x="110" y="50" width="7" height="7" fill="#ff2000"/><rect x="117" y="50" width="10" height="7" fill="#ff2000"/><rect x="9" y="57" width="10" height="7" fill="#10e8e8"/><rect x="19" y="57" width="7" height="7" fill="#10e8e8"/><rect x="26" y="57" width="7" height="7" fill="#10e8e8"/><rect x="33" y="57" width="7" height="7" fill="#10e8e8"/><rect x="40" y="57" width="7" height="7" fill="#10e8e8"/><rect x="47" y="57" width="7" height="7" fill="#ffa000"/><rect x="54" y="57" width="7" height="7" fill="#f0f000"/><rect x="61" y="57" width="7" height="7" fill="#ff2000"/><rect x="68" y="57" width="7" height="7" fill="#ff6000"/><rect x="75" y="57" width="7" height="7" fill="#ffa000"/><rect x="82" y="57" width="7" height="7" fill="#f0f000"/><rect x="89" y="57" width="7" height="7" fill="#10e8e8"/><rect x="96" y="57" width="7" height="7" fill="#10e8e8"/><rect x="103" y="57" width="7" height="7" fill="#10e8e8"/><rect x="110" y="57" width="7" height="7" fill="#10e8e8"/><rect x="117" y="57" width="10" height="7" fill="#10e8e8"/><rect x="9" y="64" width="10" height="10" fill="#10e8e8"/><rect x="19" y="64" width="7" height="10" fill="#10e8e8"/><rect x="26" y="64" width="7" height="10" fill="#10e8e8"/><rect x="33" y="64" width="7" height="10" fill="#10e8e8"/><rect x="40" y="64" width="7" height="10" fill="#10e8e8"/><rect x="47" y="64" width="7" height="10" fill="#10e8e8"/><rect x="54" y="64" width="7" height="10" fill="#f0f000"/><rect x="61" y="64" width="7" height="10" fill="#f0f000"/><rect x="68" y="64" width="7" height="10" fill="#f0f000"/><rect x="75" y="64" width="7" height="10" fill="#f0f000"/><rect x="82" y="64" width="7" height="10" fill="#f0f000"/><rect x="89" y="64" width="7" height="10" fill="#10e8e8"/><rect x="96" y="64" width="7" height="10" fill="#10e8e8"/><rect x="103" y="64" width="7" height="10" fill="#10e8e8"/><rect x="110" y="64" width="7" height="10" fill="#10e8e8"/><rect x="117" y="64" width="10" height="10" fill="#10e8e8"/></g></g>
<use href="#geo"/>
<circle cx="102.6" cy="67.8" r="0.55" fill="#35358f"/>
<circle cx="104.0" cy="69.4" r="0.55" fill="#35358f"/>
<circle cx="103.4" cy="71.2" r="0.55" fill="#35358f"/>
<circle cx="105.6" cy="71.8" r="0.55" fill="#35358f"/>
<circle cx="106.4" cy="73.6" r="0.55" fill="#35358f"/>
<circle cx="108.8" cy="75.6" r="0.55" fill="#35358f"/>
<circle cx="110.6" cy="77.0" r="0.55" fill="#35358f"/>
<circle cx="112.6" cy="77.6" r="0.55" fill="#35358f"/>
<circle cx="111.0" cy="79.0" r="0.55" fill="#35358f"/>
<rect x="0" y="0" width="140" height="84" fill="none" stroke="#4040a8" stroke-width="1.2"/>
</g>
<text x="896.0" y="588.2" text-anchor="middle" font-family="Liberation Sans, sans-serif" font-weight="bold" font-size="7.2" fill="#35358f" textLength="24" lengthAdjust="spacingAndGlyphs">phase 8</text>
<g transform="translate(826.0 590.6)">
<g clip-path="url(#us)"><g filter="url(#bs)"><rect x="9" y="12" width="10" height="10" fill="#10e8e8"/><rect x="19" y="12" width="7" height="10" fill="#2060f8"/><rect x="26" y="12" width="7" height="10" fill="#20f0a0"/><rect x="33" y="12" width="7" height="10" fill="#ff2000"/><rect x="40" y="12" width="7" height="10" fill="#ff6000"/><rect x="47" y="12" width="7" height="10" fill="#f0f000"/><rect x="54" y="12" width="7" height="10" fill="#20f0a0"/><rect x="61" y="12" width="7" height="10" fill="#20f0a0"/><rect x="68" y="12" width="7" height="10" fill="#10e8e8"/><rect x="75" y="12" width="7" height="10" fill="#20c0f8"/><rect x="82" y="12" width="7" height="10" fill="#2060f8"/><rect x="89" y="12" width="7" height="10" fill="#2060f8"/><rect x="96" y="12" width="7" height="10" fill="#2060f8"/><rect x="103" y="12" width="7" height="10" fill="#2060f8"/><rect x="110" y="12" width="7" height="10" fill="#e048f0"/><rect x="117" y="12" width="10" height="10" fill="#e048f0"/><rect x="9" y="22" width="10" height="7" fill="#10e8e8"/><rect x="19" y="22" width="7" height="7" fill="#ffd000"/><rect x="26" y="22" width="7" height="7" fill="#ffa000"/><rect x="33" y="22" width="7" height="7" fill="#ff6000"/><rect x="40" y="22" width="7" height="7" fill="#ff6000"/><rect x="47" y="22" width="7" height="7" fill="#ffa000"/><rect x="54" y="22" width="7" height="7" fill="#f0f000"/><rect x="61" y="22" width="7" height="7" fill="#20f0a0"/><rect x="68" y="22" width="7" height="7" fill="#10e8e8"/><rect x="75" y="22" width="7" height="7" fill="#20c0f8"/><rect x="82" y="22" width="7" height="7" fill="#2060f8"/><rect x="89" y="22" width="7" height="7" fill="#2060f8"/><rect x="96" y="22" width="7" height="7" fill="#2060f8"/><rect x="103" y="22" width="7" height="7" fill="#e048f0"/><rect x="110" y="22" width="7" height="7" fill="#e048f0"/><rect x="117" y="22" width="10" height="7" fill="#e048f0"/><rect x="9" y="29" width="10" height="7" fill="#60f050"/><rect x="19" y="29" width="7" height="7" fill="#ffd000"/><rect x="26" y="29" width="7" height="7" fill="#20c0f8"/><rect x="33" y="29" width="7" height="7" fill="#f0f000"/><rect x="40" y="29" width="7" height="7" fill="#ffd000"/><rect x="47" y="29" width="7" height="7" fill="#ff6000"/><rect x="54" y="29" width="7" height="7" fill="#ff2000"/><rect x="61" y="29" width="7" height="7" fill="#b0f020"/><rect x="68" y="29" width="7" height="7" fill="#10e8e8"/><rect x="75" y="29" width="7" height="7" fill="#20c0f8"/><rect x="82" y="29" width="7" height="7" fill="#2890ff"/><rect x="89" y="29" width="7" height="7" fill="#2060f8"/><rect x="96" y="29" width="7" height="7" fill="#2060f8"/><rect x="103" y="29" width="7" height="7" fill="#9810b8"/><rect x="110" y="29" width="7" height="7" fill="#e048f0"/><rect x="117" y="29" width="10" height="7" fill="#e048f0"/><rect x="9" y="36" width="10" height="7" fill="#ff6000"/><rect x="19" y="36" width="7" height="7" fill="#b0f020"/><rect x="26" y="36" width="7" height="7" fill="#ffd000"/><rect x="33" y="36" width="7" height="7" fill="#ffa000"/><rect x="40" y="36" width="7" height="7" fill="#10e8e8"/><rect x="47" y="36" width="7" height="7" fill="#10e8e8"/><rect x="54" y="36" width="7" height="7" fill="#f0f000"/><rect x="61" y="36" width="7" height="7" fill="#f0f000"/><rect x="68" y="36" width="7" height="7" fill="#20f0a0"/><rect x="75" y="36" width="7" height="7" fill="#10e8e8"/><rect x="82" y="36" width="7" height="7" fill="#2890ff"/><rect x="89" y="36" width="7" height="7" fill="#2060f8"/><rect x="96" y="36" width="7" height="7" fill="#2060f8"/><rect x="103" y="36" width="7" height="7" fill="#9810b8"/><rect x="110" y="36" width="7" height="7" fill="#9810b8"/><rect x="117" y="36" width="10" height="7" fill="#9810b8"/><rect x="9" y="43" width="10" height="7" fill="#ffa000"/><rect x="19" y="43" width="7" height="7" fill="#ffd000"/><rect x="26" y="43" width="7" height="7" fill="#ff6000"/><rect x="33" y="43" width="7" height="7" fill="#ffa000"/><rect x="40" y="43" width="7" height="7" fill="#10e8e8"/><rect x="47" y="43" width="7" height="7" fill="#20c0f8"/><rect x="54" y="43" width="7" height="7" fill="#20f0a0"/><rect x="61" y="43" width="7" height="7" fill="#b0f020"/><rect x="68" y="43" width="7" height="7" fill="#10e8e8"/><rect x="75" y="43" width="7" height="7" fill="#10e8e8"/><rect x="82" y="43" width="7" height="7" fill="#20c0f8"/><rect x="89" y="43" width="7" height="7" fill="#2890ff"/><rect x="96" y="43" width="7" height="7" fill="#2060f8"/><rect x="103" y="43" width="7" height="7" fill="#2060f8"/><rect x="110" y="43" width="7" height="7" fill="#2060f8"/><rect x="117" y="43" width="10" height="7" fill="#2060f8"/><rect x="9" y="50" width="10" height="7" fill="#ffa000"/><rect x="19" y="50" width="7" height="7" fill="#f0f000"/><rect x="26" y="50" width="7" height="7" fill="#ff6000"/><rect x="33" y="50" width="7" height="7" fill="#ff6000"/><rect x="40" y="50" width="7" height="7" fill="#2890ff"/><rect x="47" y="50" width="7" height="7" fill="#10e8e8"/><rect x="54" y="50" width="7" height="7" fill="#10e8e8"/><rect x="61" y="50" width="7" height="7" fill="#20f0a0"/><rect x="68" y="50" width="7" height="7" fill="#20f0a0"/><rect x="75" y="50" width="7" height="7" fill="#10e8e8"/><rect x="82" y="50" width="7" height="7" fill="#10e8e8"/><rect x="89" y="50" width="7" height="7" fill="#20f0a0"/><rect x="96" y="50" width="7" height="7" fill="#10e8e8"/><rect x="103" y="50" width="7" height="7" fill="#10e8e8"/><rect x="110" y="50" width="7" height="7" fill="#10e8e8"/><rect x="117" y="50" width="10" height="7" fill="#10e8e8"/><rect x="9" y="57" width="10" height="7" fill="#10e8e8"/><rect x="19" y="57" width="7" height="7" fill="#10e8e8"/><rect x="26" y="57" width="7" height="7" fill="#10e8e8"/><rect x="33" y="57" width="7" height="7" fill="#10e8e8"/><rect x="40" y="57" width="7" height="7" fill="#10e8e8"/><rect x="47" y="57" width="7" height="7" fill="#2030e0"/><rect x="54" y="57" width="7" height="7" fill="#2890ff"/><rect x="61" y="57" width="7" height="7" fill="#10e8e8"/><rect x="68" y="57" width="7" height="7" fill="#10e8e8"/><rect x="75" y="57" width="7" height="7" fill="#10e8e8"/><rect x="82" y="57" width="7" height="7" fill="#10e8e8"/><rect x="89" y="57" width="7" height="7" fill="#f0f000"/><rect x="96" y="57" width="7" height="7" fill="#f0f000"/><rect x="103" y="57" width="7" height="7" fill="#f0f000"/><rect x="110" y="57" width="7" height="7" fill="#f0f000"/><rect x="117" y="57" width="10" height="7" fill="#f0f000"/><rect x="9" y="64" width="10" height="10" fill="#10e8e8"/><rect x="19" y="64" width="7" height="10" fill="#10e8e8"/><rect x="26" y="64" width="7" height="10" fill="#10e8e8"/><rect x="33" y="64" width="7" height="10" fill="#10e8e8"/><rect x="40" y="64" width="7" height="10" fill="#10e8e8"/><rect x="47" y="64" width="7" height="10" fill="#10e8e8"/><rect x="54" y="64" width="7" height="10" fill="#2890ff"/><rect x="61" y="64" width="7" height="10" fill="#2060f8"/><rect x="68" y="64" width="7" height="10" fill="#10e8e8"/><rect x="75" y="64" width="7" height="10" fill="#10e8e8"/><rect x="82" y="64" width="7" height="10" fill="#10e8e8"/><rect x="89" y="64" width="7" height="10" fill="#ffd000"/><rect x="96" y="64" width="7" height="10" fill="#ffd000"/><rect x="103" y="64" width="7" height="10" fill="#ffd000"/><rect x="110" y="64" width="7" height="10" fill="#ffd000"/><rect x="117" y="64" width="10" height="10" fill="#ffd000"/></g></g>
<use href="#geo"/>
<circle cx="102.6" cy="67.8" r="0.55" fill="#35358f"/>
<circle cx="104.0" cy="69.4" r="0.55" fill="#35358f"/>
<circle cx="103.4" cy="71.2" r="0.55" fill="#35358f"/>
<circle cx="105.6" cy="71.8" r="0.55" fill="#35358f"/>
<circle cx="106.4" cy="73.6" r="0.55" fill="#35358f"/>
<circle cx="108.8" cy="75.6" r="0.55" fill="#35358f"/>
<circle cx="110.6" cy="77.0" r="0.55" fill="#35358f"/>
<circle cx="112.6" cy="77.6" r="0.55" fill="#35358f"/>
<circle cx="111.0" cy="79.0" r="0.55" fill="#35358f"/>
<rect x="0" y="0" width="140" height="84" fill="none" stroke="#4040a8" stroke-width="1.2"/>
</g>
<g font-family="Liberation Sans, sans-serif" font-size="5.6" font-weight="bold" fill="#35358f">
<rect x="328.60" y="684.8" width="15.67" height="6" fill="#1a4fd0"/><rect x="343.97" y="684.8" width="15.67" height="6" fill="#2462d8"/><rect x="359.34" y="684.8" width="15.67" height="6" fill="#2e72e0"/><rect x="374.71" y="684.8" width="15.67" height="6" fill="#3a82e8"/><rect x="390.08" y="684.8" width="15.67" height="6" fill="#4892ee"/><rect x="405.45" y="684.8" width="15.67" height="6" fill="#58a2f2"/><rect x="420.82" y="684.8" width="15.67" height="6" fill="#6eb2f6"/><rect x="436.19" y="684.8" width="15.67" height="6" fill="#88c4f8"/><rect x="451.56" y="684.8" width="15.67" height="6" fill="#a6d6fa"/><rect x="466.93" y="684.8" width="15.67" height="6" fill="#c8eafd"/><rect x="482.30" y="684.8" width="15.67" height="6" fill="#fff6c0"/><rect x="497.67" y="684.8" width="15.67" height="6" fill="#ffe890"/><rect x="513.04" y="684.8" width="15.67" height="6" fill="#ffd660"/><rect x="528.41" y="684.8" width="15.67" height="6" fill="#fcc040"/><rect x="543.78" y="684.8" width="15.67" height="6" fill="#f8aa28"/><rect x="559.15" y="684.8" width="15.67" height="6" fill="#f49418"/><rect x="574.52" y="684.8" width="15.67" height="6" fill="#f07414"/><rect x="589.89" y="684.8" width="15.67" height="6" fill="#e85410"/><rect x="605.26" y="684.8" width="15.67" height="6" fill="#d0300e"/><rect x="620.63" y="684.8" width="15.67" height="6" fill="#a8100c"/><rect x="328.6" y="684.8" width="307.4" height="6" fill="none" stroke="#35358f" stroke-width="0.6"/><text x="330.4" y="698.6" text-anchor="middle">&#8722;3.0</text><text x="345.0" y="698.6" text-anchor="middle">&#8722;2.7</text><text x="359.7" y="698.6" text-anchor="middle">&#8722;2.4</text><text x="374.3" y="698.6" text-anchor="middle">&#8722;2.1</text><text x="388.9" y="698.6" text-anchor="middle">&#8722;1.8</text><text x="403.5" y="698.6" text-anchor="middle">&#8722;1.5</text><text x="418.2" y="698.6" text-anchor="middle">&#8722;1.2</text><text x="432.8" y="698.6" text-anchor="middle">&#8722;0.9</text><text x="447.4" y="698.6" text-anchor="middle">&#8722;0.6</text><text x="462.1" y="698.6" text-anchor="middle">&#8722;0.3</text><text x="476.7" y="698.6" text-anchor="middle">0.0</text><text x="491.3" y="698.6" text-anchor="middle">0.3</text><text x="506.0" y="698.6" text-anchor="middle">0.6</text><text x="520.6" y="698.6" text-anchor="middle">0.9</text><text x="535.2" y="698.6" text-anchor="middle">1.2</text><text x="549.9" y="698.6" text-anchor="middle">1.5</text><text x="564.5" y="698.6" text-anchor="middle">1.8</text><text x="579.1" y="698.6" text-anchor="middle">2.1</text><text x="593.7" y="698.6" text-anchor="middle">2.4</text><text x="608.4" y="698.6" text-anchor="middle">2.7</text><text x="623.0" y="698.6" text-anchor="middle">3.0</text>
<rect x="658.60" y="684.8" width="15.67" height="6" fill="#e040f0"/><rect x="673.97" y="684.8" width="15.67" height="6" fill="#a000b0"/><rect x="689.34" y="684.8" width="15.67" height="6" fill="#1840e8"/><rect x="704.71" y="684.8" width="15.67" height="6" fill="#2060f0"/><rect x="720.08" y="684.8" width="15.67" height="6" fill="#2080f8"/><rect x="735.45" y="684.8" width="15.67" height="6" fill="#20a0f8"/><rect x="750.82" y="684.8" width="15.67" height="6" fill="#10c4f8"/><rect x="766.19" y="684.8" width="15.67" height="6" fill="#08f0fc"/><rect x="781.56" y="684.8" width="15.67" height="6" fill="#10f0d0"/><rect x="796.93" y="684.8" width="15.67" height="6" fill="#20e8a0"/><rect x="812.30" y="684.8" width="15.67" height="6" fill="#c0f020"/><rect x="827.67" y="684.8" width="15.67" height="6" fill="#e4f000"/><rect x="843.04" y="684.8" width="15.67" height="6" fill="#f8f000"/><rect x="858.41" y="684.8" width="15.67" height="6" fill="#ffd800"/><rect x="873.78" y="684.8" width="15.67" height="6" fill="#ffc000"/><rect x="889.15" y="684.8" width="15.67" height="6" fill="#ffa800"/><rect x="904.52" y="684.8" width="15.67" height="6" fill="#ff9000"/><rect x="919.89" y="684.8" width="15.67" height="6" fill="#ff6800"/><rect x="935.26" y="684.8" width="15.67" height="6" fill="#ff1000"/><rect x="950.63" y="684.8" width="15.67" height="6" fill="#ff4868"/><rect x="658.6" y="684.8" width="307.4" height="6" fill="none" stroke="#35358f" stroke-width="0.6"/><text x="660.4" y="698.6" text-anchor="middle">0.0</text><text x="675.0" y="698.6" text-anchor="middle">2.5</text><text x="689.7" y="698.6" text-anchor="middle">5.0</text><text x="704.3" y="698.6" text-anchor="middle">7.5</text><text x="718.9" y="698.6" text-anchor="middle">10.0</text><text x="733.5" y="698.6" text-anchor="middle">12.5</text><text x="748.2" y="698.6" text-anchor="middle">15.0</text><text x="762.8" y="698.6" text-anchor="middle">17.5</text><text x="777.4" y="698.6" text-anchor="middle">20.0</text><text x="792.1" y="698.6" text-anchor="middle">22.5</text><text x="806.7" y="698.6" text-anchor="middle">25.0</text><text x="821.3" y="698.6" text-anchor="middle">27.5</text><text x="836.0" y="698.6" text-anchor="middle">30.0</text><text x="850.6" y="698.6" text-anchor="middle">32.5</text><text x="865.2" y="698.6" text-anchor="middle">35.0</text><text x="879.9" y="698.6" text-anchor="middle">37.5</text><text x="894.5" y="698.6" text-anchor="middle">40.0</text><text x="909.1" y="698.6" text-anchor="middle">42.5</text><text x="923.7" y="698.6" text-anchor="middle">45.0</text><text x="938.4" y="698.6" text-anchor="middle">47.5</text><text x="953.0" y="698.6" text-anchor="middle">50.0</text>
</g>
</svg><!--/FIG-->
 <div class="ab" style="left:138.4px;top:711.4px;width:492.3px;height:1.7px;background:#74a2da"></div>
 <div class="txt" style="left:10px;top:694.7px">More information: <span style="color:#0b56c6">http://www.cpc.ncep.noaa.gov/products/precip/CWlink/MJO/mjo.shtml</span></div>
</div>

<div class="page" style="top:829px;height:80px">
 <div class="title" style="top:14.4px">MJO: CONUS Composite Maps by RMM Phase - Temperature</div>
 <svg class="ab" style="left:0;top:0" width="962" height="60"><line x1="19.2" y1="52.3" x2="937" y2="50" stroke="#111" stroke-width="1.5"/></svg>
</div>

<div id="sb"></div>
<div id="thumb"></div>
<svg class="ab" style="left:1027px;top:52px" width="16" height="16" viewBox="0 0 16 16"><path d="M8 3.3L13.9 8.7V12.9L8 7.6L1.9 12.9V8.7Z" fill="#606060"/></svg>
<svg class="ab" style="left:1027px;top:870px" width="16" height="16" viewBox="0 0 16 16"><path d="M8 12.7L13.9 7.3V3.1L8 8.4L1.9 3.1V7.3Z" fill="#606060"/></svg>
</body></html>
